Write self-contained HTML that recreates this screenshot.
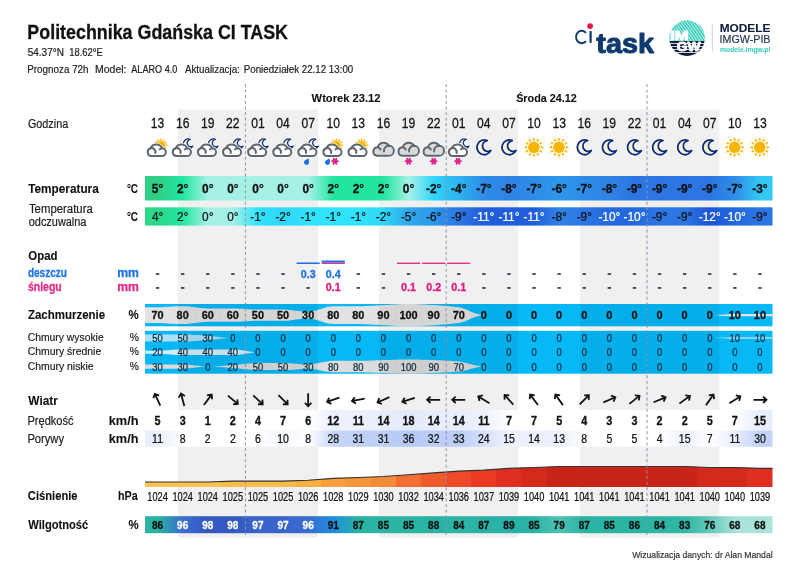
<!DOCTYPE html><html><head><meta charset="utf-8"><title>Meteogram</title><style>html,body{margin:0;padding:0;background:#fff;width:800px;height:566px;overflow:hidden}svg{display:block;will-change:transform}</style></head><body><svg width="800" height="566" viewBox="0 0 800 566" font-family='"Liberation Sans", sans-serif'><defs><linearGradient id="g1" x1="0" x2="1" y1="0" y2="0"><stop offset="0.0200" stop-color="#2fcf86"/><stop offset="0.0600" stop-color="#22e6a0"/><stop offset="0.1000" stop-color="#a6f1e6"/><stop offset="0.1400" stop-color="#a6f1e6"/><stop offset="0.1800" stop-color="#a6f1e6"/><stop offset="0.2200" stop-color="#a6f1e6"/><stop offset="0.2600" stop-color="#a6f1e6"/><stop offset="0.3000" stop-color="#22e6a0"/><stop offset="0.3400" stop-color="#22e6a0"/><stop offset="0.3800" stop-color="#22e6a0"/><stop offset="0.4200" stop-color="#a6f1e6"/><stop offset="0.4600" stop-color="#30d6f8"/><stop offset="0.5000" stop-color="#2eb3f0"/><stop offset="0.5400" stop-color="#2e8ce8"/><stop offset="0.5800" stop-color="#2f82e6"/><stop offset="0.6200" stop-color="#2e8ce8"/><stop offset="0.6600" stop-color="#2c98ea"/><stop offset="0.7000" stop-color="#2e8ce8"/><stop offset="0.7400" stop-color="#2f82e6"/><stop offset="0.7800" stop-color="#2b76e2"/><stop offset="0.8200" stop-color="#2b76e2"/><stop offset="0.8600" stop-color="#2b76e2"/><stop offset="0.9000" stop-color="#2b76e2"/><stop offset="0.9400" stop-color="#2e8ce8"/><stop offset="0.9800" stop-color="#33c9f4"/></linearGradient><linearGradient id="g2" x1="0" x2="1" y1="0" y2="0"><stop offset="0.0200" stop-color="#2cd98c"/><stop offset="0.0600" stop-color="#22e6a0"/><stop offset="0.1000" stop-color="#a6f1e6"/><stop offset="0.1400" stop-color="#a6f1e6"/><stop offset="0.1800" stop-color="#30e2fa"/><stop offset="0.2200" stop-color="#30d6f8"/><stop offset="0.2600" stop-color="#30e2fa"/><stop offset="0.3000" stop-color="#30e2fa"/><stop offset="0.3400" stop-color="#30e2fa"/><stop offset="0.3800" stop-color="#30d6f8"/><stop offset="0.4200" stop-color="#2fa8ee"/><stop offset="0.4600" stop-color="#2c98ea"/><stop offset="0.5000" stop-color="#2b76e2"/><stop offset="0.5400" stop-color="#1f5ddb"/><stop offset="0.5800" stop-color="#1f5ddb"/><stop offset="0.6200" stop-color="#1f5ddb"/><stop offset="0.6600" stop-color="#2f82e6"/><stop offset="0.7000" stop-color="#2b76e2"/><stop offset="0.7400" stop-color="#2468de"/><stop offset="0.7800" stop-color="#2468de"/><stop offset="0.8200" stop-color="#2b76e2"/><stop offset="0.8600" stop-color="#2b76e2"/><stop offset="0.9000" stop-color="#1c55d6"/><stop offset="0.9400" stop-color="#2468de"/><stop offset="0.9800" stop-color="#2b76e2"/></linearGradient><linearGradient id="g3" x1="0" x2="1" y1="0" y2="0"><stop offset="0.0200" stop-color="#ffffff"/><stop offset="0.0600" stop-color="#ffffff"/><stop offset="0.1000" stop-color="#ffffff"/><stop offset="0.1400" stop-color="#ffffff"/><stop offset="0.1800" stop-color="#ffffff"/><stop offset="0.2200" stop-color="#ffffff"/><stop offset="0.2600" stop-color="#ffffff"/><stop offset="0.3000" stop-color="#ebf0fd"/><stop offset="0.3400" stop-color="#edf1fd"/><stop offset="0.3800" stop-color="#e8eefd"/><stop offset="0.4200" stop-color="#e2e9fc"/><stop offset="0.4600" stop-color="#e8eefd"/><stop offset="0.5000" stop-color="#e8eefd"/><stop offset="0.5400" stop-color="#edf1fd"/><stop offset="0.5800" stop-color="#ffffff"/><stop offset="0.6200" stop-color="#ffffff"/><stop offset="0.6600" stop-color="#ffffff"/><stop offset="0.7000" stop-color="#ffffff"/><stop offset="0.7400" stop-color="#ffffff"/><stop offset="0.7800" stop-color="#ffffff"/><stop offset="0.8200" stop-color="#ffffff"/><stop offset="0.8600" stop-color="#ffffff"/><stop offset="0.9000" stop-color="#ffffff"/><stop offset="0.9400" stop-color="#ffffff"/><stop offset="0.9800" stop-color="#e6edfd"/></linearGradient><linearGradient id="g4" x1="0" x2="1" y1="0" y2="0"><stop offset="0.0200" stop-color="#e8eefc"/><stop offset="0.0600" stop-color="#ffffff"/><stop offset="0.1000" stop-color="#ffffff"/><stop offset="0.1400" stop-color="#ffffff"/><stop offset="0.1800" stop-color="#ffffff"/><stop offset="0.2200" stop-color="#f4f6fe"/><stop offset="0.2600" stop-color="#ffffff"/><stop offset="0.3000" stop-color="#c8d6f8"/><stop offset="0.3400" stop-color="#bfd0f7"/><stop offset="0.3800" stop-color="#bfd0f7"/><stop offset="0.4200" stop-color="#b4c8f6"/><stop offset="0.4600" stop-color="#bdcef7"/><stop offset="0.5000" stop-color="#bbcdf7"/><stop offset="0.5400" stop-color="#d6e0fa"/><stop offset="0.5800" stop-color="#eef2fd"/><stop offset="0.6200" stop-color="#ecf1fd"/><stop offset="0.6600" stop-color="#ebf0fc"/><stop offset="0.7000" stop-color="#ffffff"/><stop offset="0.7400" stop-color="#ffffff"/><stop offset="0.7800" stop-color="#ffffff"/><stop offset="0.8200" stop-color="#ffffff"/><stop offset="0.8600" stop-color="#eef2fd"/><stop offset="0.9000" stop-color="#ffffff"/><stop offset="0.9400" stop-color="#e8eefc"/><stop offset="0.9800" stop-color="#c2d2f7"/></linearGradient><linearGradient id="g5" gradientUnits="userSpaceOnUse" x1="145.0" x2="772.5" y1="0" y2="0"><stop offset="0.00000" stop-color="#fdc454"/><stop offset="0.04000" stop-color="#fdc454"/><stop offset="0.04000" stop-color="#fdc454"/><stop offset="0.08000" stop-color="#fdc454"/><stop offset="0.08000" stop-color="#fdc454"/><stop offset="0.12000" stop-color="#fdc454"/><stop offset="0.12000" stop-color="#fcbc4c"/><stop offset="0.16000" stop-color="#fcbc4c"/><stop offset="0.16000" stop-color="#fcbc4c"/><stop offset="0.20000" stop-color="#fcbc4c"/><stop offset="0.20000" stop-color="#fcbc4c"/><stop offset="0.24000" stop-color="#fcbc4c"/><stop offset="0.24000" stop-color="#fbb040"/><stop offset="0.28000" stop-color="#fbb040"/><stop offset="0.28000" stop-color="#f9a03c"/><stop offset="0.32000" stop-color="#f9a03c"/><stop offset="0.32000" stop-color="#f8943a"/><stop offset="0.36000" stop-color="#f8943a"/><stop offset="0.36000" stop-color="#f58a38"/><stop offset="0.40000" stop-color="#f58a38"/><stop offset="0.40000" stop-color="#f26e32"/><stop offset="0.44000" stop-color="#f26e32"/><stop offset="0.44000" stop-color="#ee5a2c"/><stop offset="0.48000" stop-color="#ee5a2c"/><stop offset="0.48000" stop-color="#ee4a28"/><stop offset="0.52000" stop-color="#ee4a28"/><stop offset="0.52000" stop-color="#ec3a22"/><stop offset="0.56000" stop-color="#ec3a22"/><stop offset="0.56000" stop-color="#e02e20"/><stop offset="0.60000" stop-color="#e02e20"/><stop offset="0.60000" stop-color="#d42a1e"/><stop offset="0.64000" stop-color="#d42a1e"/><stop offset="0.64000" stop-color="#c82418"/><stop offset="0.68000" stop-color="#c82418"/><stop offset="0.68000" stop-color="#c82418"/><stop offset="0.72000" stop-color="#c82418"/><stop offset="0.72000" stop-color="#c82418"/><stop offset="0.76000" stop-color="#c82418"/><stop offset="0.76000" stop-color="#c82418"/><stop offset="0.80000" stop-color="#c82418"/><stop offset="0.80000" stop-color="#c82418"/><stop offset="0.84000" stop-color="#c82418"/><stop offset="0.84000" stop-color="#c82418"/><stop offset="0.88000" stop-color="#c82418"/><stop offset="0.88000" stop-color="#d42a1e"/><stop offset="0.92000" stop-color="#d42a1e"/><stop offset="0.92000" stop-color="#d42a1e"/><stop offset="0.96000" stop-color="#d42a1e"/><stop offset="0.96000" stop-color="#e02e20"/><stop offset="1.00000" stop-color="#e02e20"/></linearGradient><linearGradient id="g6" x1="0" x2="1" y1="0" y2="0"><stop offset="0.0200" stop-color="#29b4a3"/><stop offset="0.0600" stop-color="#3a6ccf"/><stop offset="0.1000" stop-color="#3458c0"/><stop offset="0.1400" stop-color="#3458c0"/><stop offset="0.1800" stop-color="#3964c9"/><stop offset="0.2200" stop-color="#3964c9"/><stop offset="0.2600" stop-color="#3a6ccf"/><stop offset="0.3000" stop-color="#1f8fe0"/><stop offset="0.3400" stop-color="#29b3a4"/><stop offset="0.3800" stop-color="#2ab5a3"/><stop offset="0.4200" stop-color="#2ab5a3"/><stop offset="0.4600" stop-color="#28b2a4"/><stop offset="0.5000" stop-color="#2db6a4"/><stop offset="0.5400" stop-color="#29b3a4"/><stop offset="0.5800" stop-color="#2ab0a8"/><stop offset="0.6200" stop-color="#2ab5a3"/><stop offset="0.6600" stop-color="#4fc2b2"/><stop offset="0.7000" stop-color="#29b3a4"/><stop offset="0.7400" stop-color="#2ab5a3"/><stop offset="0.7800" stop-color="#29b4a3"/><stop offset="0.8200" stop-color="#2db6a4"/><stop offset="0.8600" stop-color="#30b8a6"/><stop offset="0.9000" stop-color="#62c9b9"/><stop offset="0.9400" stop-color="#a9e3da"/><stop offset="0.9800" stop-color="#a9e3da"/></linearGradient></defs><rect x="0" y="0" width="800" height="566" fill="#fff"/>
<rect x="178" y="109.5" width="140" height="428" fill="#f0f0f0"/>
<rect x="379" y="109.5" width="139" height="428" fill="#f0f0f0"/>
<rect x="580" y="109.5" width="139.29999999999995" height="428" fill="#f0f0f0"/>
<text transform="translate(27.37,38.60) scale(0.8802,1)" font-size="20.3" font-weight="bold" text-anchor="start" fill="#111111" xml:space="preserve" stroke="#111111" stroke-width="0.3" stroke-linejoin="round">Politechnika Gdańska CI TASK</text>
<text transform="translate(27.72,55.75) scale(0.9615,1)" font-size="10.4" font-weight="normal" text-anchor="start" fill="#222" xml:space="preserve" stroke="#222" stroke-width="0.2" stroke-linejoin="round">54.37°N</text>
<text transform="translate(69.28,55.75) scale(0.9053,1)" font-size="10.4" font-weight="normal" text-anchor="start" fill="#222" xml:space="preserve" stroke="#222" stroke-width="0.2" stroke-linejoin="round">18.62°E</text>
<text transform="translate(27.26,72.60) scale(0.9389,1)" font-size="10.5" font-weight="normal" text-anchor="start" fill="#222" xml:space="preserve" stroke="#222" stroke-width="0.2" stroke-linejoin="round">Prognoza 72h</text>
<text transform="translate(95.10,72.60) scale(0.9966,1)" font-size="10.5" font-weight="normal" text-anchor="start" fill="#222" xml:space="preserve" stroke="#222" stroke-width="0.2" stroke-linejoin="round">Model:</text>
<text transform="translate(131.31,72.60) scale(0.8669,1)" font-size="10.5" font-weight="normal" text-anchor="start" fill="#222" xml:space="preserve" stroke="#222" stroke-width="0.2" stroke-linejoin="round">ALARO 4.0</text>
<text transform="translate(184.91,72.60) scale(0.9326,1)" font-size="10.5" font-weight="normal" text-anchor="start" fill="#222" xml:space="preserve" stroke="#222" stroke-width="0.2" stroke-linejoin="round">Aktualizacja:</text>
<text transform="translate(243.76,72.60) scale(0.9297,1)" font-size="10.5" font-weight="normal" text-anchor="start" fill="#222" xml:space="preserve" stroke="#222" stroke-width="0.2" stroke-linejoin="round">Poniedziałek 22.12 13:00</text>
<text transform="translate(311.60,101.60) scale(0.9620,1)" font-size="11.6" font-weight="bold" text-anchor="start" fill="#111" xml:space="preserve" stroke="#111" stroke-width="0.1" stroke-linejoin="round">Wtorek 23.12</text>
<text transform="translate(516.13,101.50) scale(0.9331,1)" font-size="11.6" font-weight="bold" text-anchor="start" fill="#111" xml:space="preserve" stroke="#111" stroke-width="0.1" stroke-linejoin="round">Środa 24.12</text>
<text transform="translate(27.97,128.40) scale(0.8842,1)" font-size="12.22" font-weight="normal" text-anchor="start" fill="#222" xml:space="preserve" stroke="#222" stroke-width="0.2" stroke-linejoin="round">Godzina</text>
<text transform="translate(28.20,192.75) scale(0.9515,1)" font-size="12.4" font-weight="bold" text-anchor="start" fill="#111" xml:space="preserve" stroke="#111" stroke-width="0.1" stroke-linejoin="round">Temperatura</text>
<text transform="translate(126.92,192.80) scale(0.7984,1)" font-size="12.4" font-weight="bold" text-anchor="start" fill="#111" xml:space="preserve" stroke="#111" stroke-width="0.1" stroke-linejoin="round">°C</text>
<text transform="translate(28.92,212.70) scale(0.9312,1)" font-size="12.22" font-weight="normal" text-anchor="start" fill="#222" xml:space="preserve" stroke="#222" stroke-width="0.2" stroke-linejoin="round">Temperatura</text>
<text transform="translate(28.75,225.70) scale(0.8953,1)" font-size="12.22" font-weight="normal" text-anchor="start" fill="#222" xml:space="preserve" stroke="#222" stroke-width="0.2" stroke-linejoin="round">odczuwalna</text>
<text transform="translate(126.92,221.20) scale(0.7984,1)" font-size="12.4" font-weight="bold" text-anchor="start" fill="#111" xml:space="preserve" stroke="#111" stroke-width="0.1" stroke-linejoin="round">°C</text>
<text transform="translate(28.29,259.70) scale(0.9227,1)" font-size="12.4" font-weight="bold" text-anchor="start" fill="#111" xml:space="preserve" stroke="#111" stroke-width="0.1" stroke-linejoin="round">Opad</text>
<text transform="translate(27.90,276.70) scale(0.8081,1)" font-size="12.4" font-weight="bold" text-anchor="start" fill="#1f74e6" xml:space="preserve" stroke="#1f74e6" stroke-width="0.3" stroke-linejoin="round">deszczu</text>
<text transform="translate(117.21,276.70) scale(0.9854,1)" font-size="12.4" font-weight="bold" text-anchor="start" fill="#1f74e6" xml:space="preserve" stroke="#1f74e6" stroke-width="0.3" stroke-linejoin="round">mm</text>
<text transform="translate(27.88,291.00) scale(0.8472,1)" font-size="12.4" font-weight="bold" text-anchor="start" fill="#e42c88" xml:space="preserve" stroke="#e42c88" stroke-width="0.3" stroke-linejoin="round">śniegu</text>
<text transform="translate(117.21,291.00) scale(0.9854,1)" font-size="12.4" font-weight="bold" text-anchor="start" fill="#e42c88" xml:space="preserve" stroke="#e42c88" stroke-width="0.3" stroke-linejoin="round">mm</text>
<text transform="translate(27.93,319.25) scale(0.9273,1)" font-size="12.4" font-weight="bold" text-anchor="start" fill="#111" xml:space="preserve" stroke="#111" stroke-width="0.1" stroke-linejoin="round">Zachmurzenie</text>
<text transform="translate(128.62,319.25) scale(0.9231,1)" font-size="12.4" font-weight="bold" text-anchor="start" fill="#111" xml:space="preserve" stroke="#111" stroke-width="0.1" stroke-linejoin="round">%</text>
<text transform="translate(27.77,341.00) scale(0.8792,1)" font-size="11.78" font-weight="normal" text-anchor="start" fill="#222" xml:space="preserve" stroke="#222" stroke-width="0.2" stroke-linejoin="round">Chmury wysokie</text>
<text transform="translate(129.65,341.00) scale(0.8763,1)" font-size="11.78" font-weight="normal" text-anchor="start" fill="#222" xml:space="preserve" stroke="#222" stroke-width="0.2" stroke-linejoin="round">%</text>
<text transform="translate(27.77,355.20) scale(0.8829,1)" font-size="11.78" font-weight="normal" text-anchor="start" fill="#222" xml:space="preserve" stroke="#222" stroke-width="0.2" stroke-linejoin="round">Chmury średnie</text>
<text transform="translate(129.65,355.20) scale(0.8763,1)" font-size="11.78" font-weight="normal" text-anchor="start" fill="#222" xml:space="preserve" stroke="#222" stroke-width="0.2" stroke-linejoin="round">%</text>
<text transform="translate(27.77,369.50) scale(0.8830,1)" font-size="11.78" font-weight="normal" text-anchor="start" fill="#222" xml:space="preserve" stroke="#222" stroke-width="0.2" stroke-linejoin="round">Chmury niskie</text>
<text transform="translate(129.65,369.50) scale(0.8763,1)" font-size="11.78" font-weight="normal" text-anchor="start" fill="#222" xml:space="preserve" stroke="#222" stroke-width="0.2" stroke-linejoin="round">%</text>
<text transform="translate(28.30,405.00) scale(0.9577,1)" font-size="12.4" font-weight="bold" text-anchor="start" fill="#111" xml:space="preserve" stroke="#111" stroke-width="0.1" stroke-linejoin="round">Wiatr</text>
<text transform="translate(27.42,424.50) scale(0.8772,1)" font-size="12.64" font-weight="normal" text-anchor="start" fill="#222" xml:space="preserve" stroke="#222" stroke-width="0.2" stroke-linejoin="round">Prędkość</text>
<text transform="translate(108.78,424.50) scale(1.0256,1)" font-size="12.4" font-weight="bold" text-anchor="start" fill="#111" xml:space="preserve" stroke="#111" stroke-width="0.1" stroke-linejoin="round">km/h</text>
<text transform="translate(27.42,443.20) scale(0.8837,1)" font-size="12.64" font-weight="normal" text-anchor="start" fill="#222" xml:space="preserve" stroke="#222" stroke-width="0.2" stroke-linejoin="round">Porywy</text>
<text transform="translate(108.78,443.20) scale(1.0256,1)" font-size="12.4" font-weight="bold" text-anchor="start" fill="#111" xml:space="preserve" stroke="#111" stroke-width="0.1" stroke-linejoin="round">km/h</text>
<text transform="translate(27.85,500.00) scale(0.9022,1)" font-size="12.4" font-weight="bold" text-anchor="start" fill="#111" xml:space="preserve" stroke="#111" stroke-width="0.1" stroke-linejoin="round">Ciśnienie</text>
<text transform="translate(117.92,500.00) scale(0.8676,1)" font-size="12.4" font-weight="bold" text-anchor="start" fill="#111" xml:space="preserve" stroke="#111" stroke-width="0.1" stroke-linejoin="round">hPa</text>
<text transform="translate(28.30,528.80) scale(0.9005,1)" font-size="12.4" font-weight="bold" text-anchor="start" fill="#111" xml:space="preserve" stroke="#111" stroke-width="0.1" stroke-linejoin="round">Wilgotność</text>
<text transform="translate(128.62,528.80) scale(0.9231,1)" font-size="12.4" font-weight="bold" text-anchor="start" fill="#111" xml:space="preserve" stroke="#111" stroke-width="0.1" stroke-linejoin="round">%</text>
<text transform="translate(632.21,558.10) scale(0.8922,1)" font-size="9.67" font-weight="normal" text-anchor="start" fill="#333" xml:space="preserve" stroke="#333" stroke-width="0.2" stroke-linejoin="round">Wizualizacja danych: dr Alan Mandal</text>
<text transform="translate(157.55,127.60) scale(0.8546,1)" font-size="14.2" font-weight="normal" text-anchor="middle" fill="#111" stroke="#111" stroke-width="0.25" stroke-linejoin="round">13</text>
<text transform="translate(182.65,127.60) scale(0.8546,1)" font-size="14.2" font-weight="normal" text-anchor="middle" fill="#111" stroke="#111" stroke-width="0.25" stroke-linejoin="round">16</text>
<text transform="translate(207.75,127.60) scale(0.8546,1)" font-size="14.2" font-weight="normal" text-anchor="middle" fill="#111" stroke="#111" stroke-width="0.25" stroke-linejoin="round">19</text>
<text transform="translate(232.85,127.60) scale(0.8546,1)" font-size="14.2" font-weight="normal" text-anchor="middle" fill="#111" stroke="#111" stroke-width="0.25" stroke-linejoin="round">22</text>
<text transform="translate(257.95,127.60) scale(0.8546,1)" font-size="14.2" font-weight="normal" text-anchor="middle" fill="#111" stroke="#111" stroke-width="0.25" stroke-linejoin="round">01</text>
<text transform="translate(283.05,127.60) scale(0.8546,1)" font-size="14.2" font-weight="normal" text-anchor="middle" fill="#111" stroke="#111" stroke-width="0.25" stroke-linejoin="round">04</text>
<text transform="translate(308.15,127.60) scale(0.8546,1)" font-size="14.2" font-weight="normal" text-anchor="middle" fill="#111" stroke="#111" stroke-width="0.25" stroke-linejoin="round">07</text>
<text transform="translate(333.25,127.60) scale(0.8546,1)" font-size="14.2" font-weight="normal" text-anchor="middle" fill="#111" stroke="#111" stroke-width="0.25" stroke-linejoin="round">10</text>
<text transform="translate(358.35,127.60) scale(0.8546,1)" font-size="14.2" font-weight="normal" text-anchor="middle" fill="#111" stroke="#111" stroke-width="0.25" stroke-linejoin="round">13</text>
<text transform="translate(383.45,127.60) scale(0.8546,1)" font-size="14.2" font-weight="normal" text-anchor="middle" fill="#111" stroke="#111" stroke-width="0.25" stroke-linejoin="round">16</text>
<text transform="translate(408.55,127.60) scale(0.8546,1)" font-size="14.2" font-weight="normal" text-anchor="middle" fill="#111" stroke="#111" stroke-width="0.25" stroke-linejoin="round">19</text>
<text transform="translate(433.65,127.60) scale(0.8546,1)" font-size="14.2" font-weight="normal" text-anchor="middle" fill="#111" stroke="#111" stroke-width="0.25" stroke-linejoin="round">22</text>
<text transform="translate(458.75,127.60) scale(0.8546,1)" font-size="14.2" font-weight="normal" text-anchor="middle" fill="#111" stroke="#111" stroke-width="0.25" stroke-linejoin="round">01</text>
<text transform="translate(483.85,127.60) scale(0.8546,1)" font-size="14.2" font-weight="normal" text-anchor="middle" fill="#111" stroke="#111" stroke-width="0.25" stroke-linejoin="round">04</text>
<text transform="translate(508.95,127.60) scale(0.8546,1)" font-size="14.2" font-weight="normal" text-anchor="middle" fill="#111" stroke="#111" stroke-width="0.25" stroke-linejoin="round">07</text>
<text transform="translate(534.05,127.60) scale(0.8546,1)" font-size="14.2" font-weight="normal" text-anchor="middle" fill="#111" stroke="#111" stroke-width="0.25" stroke-linejoin="round">10</text>
<text transform="translate(559.15,127.60) scale(0.8546,1)" font-size="14.2" font-weight="normal" text-anchor="middle" fill="#111" stroke="#111" stroke-width="0.25" stroke-linejoin="round">13</text>
<text transform="translate(584.25,127.60) scale(0.8546,1)" font-size="14.2" font-weight="normal" text-anchor="middle" fill="#111" stroke="#111" stroke-width="0.25" stroke-linejoin="round">16</text>
<text transform="translate(609.35,127.60) scale(0.8546,1)" font-size="14.2" font-weight="normal" text-anchor="middle" fill="#111" stroke="#111" stroke-width="0.25" stroke-linejoin="round">19</text>
<text transform="translate(634.45,127.60) scale(0.8546,1)" font-size="14.2" font-weight="normal" text-anchor="middle" fill="#111" stroke="#111" stroke-width="0.25" stroke-linejoin="round">22</text>
<text transform="translate(659.55,127.60) scale(0.8546,1)" font-size="14.2" font-weight="normal" text-anchor="middle" fill="#111" stroke="#111" stroke-width="0.25" stroke-linejoin="round">01</text>
<text transform="translate(684.65,127.60) scale(0.8546,1)" font-size="14.2" font-weight="normal" text-anchor="middle" fill="#111" stroke="#111" stroke-width="0.25" stroke-linejoin="round">04</text>
<text transform="translate(709.75,127.60) scale(0.8546,1)" font-size="14.2" font-weight="normal" text-anchor="middle" fill="#111" stroke="#111" stroke-width="0.25" stroke-linejoin="round">07</text>
<text transform="translate(734.85,127.60) scale(0.8546,1)" font-size="14.2" font-weight="normal" text-anchor="middle" fill="#111" stroke="#111" stroke-width="0.25" stroke-linejoin="round">10</text>
<text transform="translate(759.95,127.60) scale(0.8546,1)" font-size="14.2" font-weight="normal" text-anchor="middle" fill="#111" stroke="#111" stroke-width="0.25" stroke-linejoin="round">13</text>
<rect x="145.0" y="176" width="627.5" height="24.5" fill="url(#g1)"/>
<rect x="145.0" y="207.3" width="627.5" height="18.3" fill="url(#g2)"/>
<text transform="translate(157.55,192.80) scale(0.9931,1)" font-size="12" font-weight="bold" text-anchor="middle" fill="#111" stroke="#111" stroke-width="0.3" stroke-linejoin="round">5°</text>
<text transform="translate(182.65,192.80) scale(0.9931,1)" font-size="12" font-weight="bold" text-anchor="middle" fill="#111" stroke="#111" stroke-width="0.3" stroke-linejoin="round">2°</text>
<text transform="translate(207.75,192.80) scale(0.9931,1)" font-size="12" font-weight="bold" text-anchor="middle" fill="#111" stroke="#111" stroke-width="0.3" stroke-linejoin="round">0°</text>
<text transform="translate(232.85,192.80) scale(0.9931,1)" font-size="12" font-weight="bold" text-anchor="middle" fill="#111" stroke="#111" stroke-width="0.3" stroke-linejoin="round">0°</text>
<text transform="translate(257.95,192.80) scale(0.9931,1)" font-size="12" font-weight="bold" text-anchor="middle" fill="#111" stroke="#111" stroke-width="0.3" stroke-linejoin="round">0°</text>
<text transform="translate(283.05,192.80) scale(0.9931,1)" font-size="12" font-weight="bold" text-anchor="middle" fill="#111" stroke="#111" stroke-width="0.3" stroke-linejoin="round">0°</text>
<text transform="translate(308.15,192.80) scale(0.9931,1)" font-size="12" font-weight="bold" text-anchor="middle" fill="#111" stroke="#111" stroke-width="0.3" stroke-linejoin="round">0°</text>
<text transform="translate(333.25,192.80) scale(0.9931,1)" font-size="12" font-weight="bold" text-anchor="middle" fill="#111" stroke="#111" stroke-width="0.3" stroke-linejoin="round">2°</text>
<text transform="translate(358.35,192.80) scale(0.9931,1)" font-size="12" font-weight="bold" text-anchor="middle" fill="#111" stroke="#111" stroke-width="0.3" stroke-linejoin="round">2°</text>
<text transform="translate(383.45,192.80) scale(0.9931,1)" font-size="12" font-weight="bold" text-anchor="middle" fill="#111" stroke="#111" stroke-width="0.3" stroke-linejoin="round">2°</text>
<text transform="translate(408.55,192.80) scale(0.9931,1)" font-size="12" font-weight="bold" text-anchor="middle" fill="#111" stroke="#111" stroke-width="0.3" stroke-linejoin="round">0°</text>
<text transform="translate(433.65,192.80) scale(0.9931,1)" font-size="12" font-weight="bold" text-anchor="middle" fill="#111" stroke="#111" stroke-width="0.3" stroke-linejoin="round">-2°</text>
<text transform="translate(458.75,192.80) scale(0.9931,1)" font-size="12" font-weight="bold" text-anchor="middle" fill="#111" stroke="#111" stroke-width="0.3" stroke-linejoin="round">-4°</text>
<text transform="translate(483.85,192.80) scale(0.9931,1)" font-size="12" font-weight="bold" text-anchor="middle" fill="#111" stroke="#111" stroke-width="0.3" stroke-linejoin="round">-7°</text>
<text transform="translate(508.95,192.80) scale(0.9931,1)" font-size="12" font-weight="bold" text-anchor="middle" fill="#111" stroke="#111" stroke-width="0.3" stroke-linejoin="round">-8°</text>
<text transform="translate(534.05,192.80) scale(0.9931,1)" font-size="12" font-weight="bold" text-anchor="middle" fill="#111" stroke="#111" stroke-width="0.3" stroke-linejoin="round">-7°</text>
<text transform="translate(559.15,192.80) scale(0.9931,1)" font-size="12" font-weight="bold" text-anchor="middle" fill="#111" stroke="#111" stroke-width="0.3" stroke-linejoin="round">-6°</text>
<text transform="translate(584.25,192.80) scale(0.9931,1)" font-size="12" font-weight="bold" text-anchor="middle" fill="#111" stroke="#111" stroke-width="0.3" stroke-linejoin="round">-7°</text>
<text transform="translate(609.35,192.80) scale(0.9931,1)" font-size="12" font-weight="bold" text-anchor="middle" fill="#111" stroke="#111" stroke-width="0.3" stroke-linejoin="round">-8°</text>
<text transform="translate(634.45,192.80) scale(0.9931,1)" font-size="12" font-weight="bold" text-anchor="middle" fill="#111" stroke="#111" stroke-width="0.3" stroke-linejoin="round">-9°</text>
<text transform="translate(659.55,192.80) scale(0.9931,1)" font-size="12" font-weight="bold" text-anchor="middle" fill="#111" stroke="#111" stroke-width="0.3" stroke-linejoin="round">-9°</text>
<text transform="translate(684.65,192.80) scale(0.9931,1)" font-size="12" font-weight="bold" text-anchor="middle" fill="#111" stroke="#111" stroke-width="0.3" stroke-linejoin="round">-9°</text>
<text transform="translate(709.75,192.80) scale(0.9931,1)" font-size="12" font-weight="bold" text-anchor="middle" fill="#111" stroke="#111" stroke-width="0.3" stroke-linejoin="round">-9°</text>
<text transform="translate(734.85,192.80) scale(0.9931,1)" font-size="12" font-weight="bold" text-anchor="middle" fill="#111" stroke="#111" stroke-width="0.3" stroke-linejoin="round">-7°</text>
<text transform="translate(759.95,192.80) scale(0.9931,1)" font-size="12" font-weight="bold" text-anchor="middle" fill="#111" stroke="#111" stroke-width="0.3" stroke-linejoin="round">-3°</text>
<text transform="translate(157.55,220.60) scale(0.9875,1)" font-size="12.0" font-weight="normal" text-anchor="middle" fill="#111" stroke="#111" stroke-width="0.25" stroke-linejoin="round">4°</text>
<text transform="translate(182.65,220.60) scale(0.9875,1)" font-size="12.0" font-weight="normal" text-anchor="middle" fill="#111" stroke="#111" stroke-width="0.25" stroke-linejoin="round">2°</text>
<text transform="translate(207.75,220.60) scale(0.9875,1)" font-size="12.0" font-weight="normal" text-anchor="middle" fill="#111" stroke="#111" stroke-width="0.25" stroke-linejoin="round">0°</text>
<text transform="translate(232.85,220.60) scale(0.9875,1)" font-size="12.0" font-weight="normal" text-anchor="middle" fill="#111" stroke="#111" stroke-width="0.25" stroke-linejoin="round">0°</text>
<text transform="translate(257.95,220.60) scale(0.9875,1)" font-size="12.0" font-weight="normal" text-anchor="middle" fill="#111" stroke="#111" stroke-width="0.25" stroke-linejoin="round">-1°</text>
<text transform="translate(283.05,220.60) scale(0.9875,1)" font-size="12.0" font-weight="normal" text-anchor="middle" fill="#111" stroke="#111" stroke-width="0.25" stroke-linejoin="round">-2°</text>
<text transform="translate(308.15,220.60) scale(0.9875,1)" font-size="12.0" font-weight="normal" text-anchor="middle" fill="#111" stroke="#111" stroke-width="0.25" stroke-linejoin="round">-1°</text>
<text transform="translate(333.25,220.60) scale(0.9875,1)" font-size="12.0" font-weight="normal" text-anchor="middle" fill="#111" stroke="#111" stroke-width="0.25" stroke-linejoin="round">-1°</text>
<text transform="translate(358.35,220.60) scale(0.9875,1)" font-size="12.0" font-weight="normal" text-anchor="middle" fill="#111" stroke="#111" stroke-width="0.25" stroke-linejoin="round">-1°</text>
<text transform="translate(383.45,220.60) scale(0.9875,1)" font-size="12.0" font-weight="normal" text-anchor="middle" fill="#111" stroke="#111" stroke-width="0.25" stroke-linejoin="round">-2°</text>
<text transform="translate(408.55,220.60) scale(0.9875,1)" font-size="12.0" font-weight="normal" text-anchor="middle" fill="#111" stroke="#111" stroke-width="0.25" stroke-linejoin="round">-5°</text>
<text transform="translate(433.65,220.60) scale(0.9875,1)" font-size="12.0" font-weight="normal" text-anchor="middle" fill="#111" stroke="#111" stroke-width="0.25" stroke-linejoin="round">-6°</text>
<text transform="translate(458.75,220.60) scale(0.9875,1)" font-size="12.0" font-weight="normal" text-anchor="middle" fill="#111" stroke="#111" stroke-width="0.25" stroke-linejoin="round">-9°</text>
<text transform="translate(483.85,220.60) scale(0.9875,1)" font-size="12.0" font-weight="normal" text-anchor="middle" fill="#fff" stroke="#fff" stroke-width="0.25" stroke-linejoin="round">-11°</text>
<text transform="translate(508.95,220.60) scale(0.9875,1)" font-size="12.0" font-weight="normal" text-anchor="middle" fill="#fff" stroke="#fff" stroke-width="0.25" stroke-linejoin="round">-11°</text>
<text transform="translate(534.05,220.60) scale(0.9875,1)" font-size="12.0" font-weight="normal" text-anchor="middle" fill="#fff" stroke="#fff" stroke-width="0.25" stroke-linejoin="round">-11°</text>
<text transform="translate(559.15,220.60) scale(0.9875,1)" font-size="12.0" font-weight="normal" text-anchor="middle" fill="#111" stroke="#111" stroke-width="0.25" stroke-linejoin="round">-8°</text>
<text transform="translate(584.25,220.60) scale(0.9875,1)" font-size="12.0" font-weight="normal" text-anchor="middle" fill="#111" stroke="#111" stroke-width="0.25" stroke-linejoin="round">-9°</text>
<text transform="translate(609.35,220.60) scale(0.9875,1)" font-size="12.0" font-weight="normal" text-anchor="middle" fill="#fff" stroke="#fff" stroke-width="0.25" stroke-linejoin="round">-10°</text>
<text transform="translate(634.45,220.60) scale(0.9875,1)" font-size="12.0" font-weight="normal" text-anchor="middle" fill="#fff" stroke="#fff" stroke-width="0.25" stroke-linejoin="round">-10°</text>
<text transform="translate(659.55,220.60) scale(0.9875,1)" font-size="12.0" font-weight="normal" text-anchor="middle" fill="#111" stroke="#111" stroke-width="0.25" stroke-linejoin="round">-9°</text>
<text transform="translate(684.65,220.60) scale(0.9875,1)" font-size="12.0" font-weight="normal" text-anchor="middle" fill="#111" stroke="#111" stroke-width="0.25" stroke-linejoin="round">-9°</text>
<text transform="translate(709.75,220.60) scale(0.9875,1)" font-size="12.0" font-weight="normal" text-anchor="middle" fill="#fff" stroke="#fff" stroke-width="0.25" stroke-linejoin="round">-12°</text>
<text transform="translate(734.85,220.60) scale(0.9875,1)" font-size="12.0" font-weight="normal" text-anchor="middle" fill="#fff" stroke="#fff" stroke-width="0.25" stroke-linejoin="round">-10°</text>
<text transform="translate(759.95,220.60) scale(0.9875,1)" font-size="12.0" font-weight="normal" text-anchor="middle" fill="#111" stroke="#111" stroke-width="0.25" stroke-linejoin="round">-9°</text>
<rect x="296.60" y="262.44" width="23.10" height="1.56" fill="#2a6fe0"/>
<rect x="321.70" y="262.60" width="23.10" height="1.40" fill="#e0358a"/>
<rect x="321.70" y="260.52" width="23.10" height="2.08" fill="#2a6fe0"/>
<rect x="397.00" y="262.60" width="23.10" height="1.40" fill="#e0358a"/>
<rect x="422.10" y="262.60" width="23.10" height="1.40" fill="#e0358a"/>
<rect x="447.20" y="262.60" width="23.10" height="1.40" fill="#e0358a"/>
<rect x="155.85" y="273.3" width="3.4" height="1.5" fill="#1a1f3a"/>
<rect x="155.85" y="287.2" width="3.4" height="1.5" fill="#1a1f3a"/>
<rect x="180.95" y="273.3" width="3.4" height="1.5" fill="#1a1f3a"/>
<rect x="180.95" y="287.2" width="3.4" height="1.5" fill="#1a1f3a"/>
<rect x="206.05" y="273.3" width="3.4" height="1.5" fill="#1a1f3a"/>
<rect x="206.05" y="287.2" width="3.4" height="1.5" fill="#1a1f3a"/>
<rect x="231.15" y="273.3" width="3.4" height="1.5" fill="#1a1f3a"/>
<rect x="231.15" y="287.2" width="3.4" height="1.5" fill="#1a1f3a"/>
<rect x="256.25" y="273.3" width="3.4" height="1.5" fill="#1a1f3a"/>
<rect x="256.25" y="287.2" width="3.4" height="1.5" fill="#1a1f3a"/>
<rect x="281.35" y="273.3" width="3.4" height="1.5" fill="#1a1f3a"/>
<rect x="281.35" y="287.2" width="3.4" height="1.5" fill="#1a1f3a"/>
<text transform="translate(308.15,277.50) scale(0.9097,1)" font-size="11.8" font-weight="bold" text-anchor="middle" fill="#1a70e6" stroke="#1a70e6" stroke-width="0.3" stroke-linejoin="round">0.3</text>
<rect x="306.45" y="287.2" width="3.4" height="1.5" fill="#1a1f3a"/>
<text transform="translate(333.25,277.50) scale(0.9097,1)" font-size="11.8" font-weight="bold" text-anchor="middle" fill="#1a70e6" stroke="#1a70e6" stroke-width="0.3" stroke-linejoin="round">0.4</text>
<text transform="translate(333.25,290.90) scale(0.9097,1)" font-size="11.8" font-weight="bold" text-anchor="middle" fill="#e01a80" stroke="#e01a80" stroke-width="0.3" stroke-linejoin="round">0.1</text>
<rect x="356.65" y="273.3" width="3.4" height="1.5" fill="#1a1f3a"/>
<rect x="356.65" y="287.2" width="3.4" height="1.5" fill="#1a1f3a"/>
<rect x="381.75" y="273.3" width="3.4" height="1.5" fill="#1a1f3a"/>
<rect x="381.75" y="287.2" width="3.4" height="1.5" fill="#1a1f3a"/>
<rect x="406.85" y="273.3" width="3.4" height="1.5" fill="#1a1f3a"/>
<text transform="translate(408.55,290.90) scale(0.9097,1)" font-size="11.8" font-weight="bold" text-anchor="middle" fill="#e01a80" stroke="#e01a80" stroke-width="0.3" stroke-linejoin="round">0.1</text>
<rect x="431.95" y="273.3" width="3.4" height="1.5" fill="#1a1f3a"/>
<text transform="translate(433.65,290.90) scale(0.9097,1)" font-size="11.8" font-weight="bold" text-anchor="middle" fill="#e01a80" stroke="#e01a80" stroke-width="0.3" stroke-linejoin="round">0.2</text>
<rect x="457.05" y="273.3" width="3.4" height="1.5" fill="#1a1f3a"/>
<text transform="translate(458.75,290.90) scale(0.9097,1)" font-size="11.8" font-weight="bold" text-anchor="middle" fill="#e01a80" stroke="#e01a80" stroke-width="0.3" stroke-linejoin="round">0.1</text>
<rect x="482.15" y="273.3" width="3.4" height="1.5" fill="#1a1f3a"/>
<rect x="482.15" y="287.2" width="3.4" height="1.5" fill="#1a1f3a"/>
<rect x="507.25" y="273.3" width="3.4" height="1.5" fill="#1a1f3a"/>
<rect x="507.25" y="287.2" width="3.4" height="1.5" fill="#1a1f3a"/>
<rect x="532.35" y="273.3" width="3.4" height="1.5" fill="#1a1f3a"/>
<rect x="532.35" y="287.2" width="3.4" height="1.5" fill="#1a1f3a"/>
<rect x="557.45" y="273.3" width="3.4" height="1.5" fill="#1a1f3a"/>
<rect x="557.45" y="287.2" width="3.4" height="1.5" fill="#1a1f3a"/>
<rect x="582.55" y="273.3" width="3.4" height="1.5" fill="#1a1f3a"/>
<rect x="582.55" y="287.2" width="3.4" height="1.5" fill="#1a1f3a"/>
<rect x="607.65" y="273.3" width="3.4" height="1.5" fill="#1a1f3a"/>
<rect x="607.65" y="287.2" width="3.4" height="1.5" fill="#1a1f3a"/>
<rect x="632.75" y="273.3" width="3.4" height="1.5" fill="#1a1f3a"/>
<rect x="632.75" y="287.2" width="3.4" height="1.5" fill="#1a1f3a"/>
<rect x="657.85" y="273.3" width="3.4" height="1.5" fill="#1a1f3a"/>
<rect x="657.85" y="287.2" width="3.4" height="1.5" fill="#1a1f3a"/>
<rect x="682.95" y="273.3" width="3.4" height="1.5" fill="#1a1f3a"/>
<rect x="682.95" y="287.2" width="3.4" height="1.5" fill="#1a1f3a"/>
<rect x="708.05" y="273.3" width="3.4" height="1.5" fill="#1a1f3a"/>
<rect x="708.05" y="287.2" width="3.4" height="1.5" fill="#1a1f3a"/>
<rect x="733.15" y="273.3" width="3.4" height="1.5" fill="#1a1f3a"/>
<rect x="733.15" y="287.2" width="3.4" height="1.5" fill="#1a1f3a"/>
<rect x="758.25" y="273.3" width="3.4" height="1.5" fill="#1a1f3a"/>
<rect x="758.25" y="287.2" width="3.4" height="1.5" fill="#1a1f3a"/>
<rect x="145.0" y="304" width="627.5" height="22.3" fill="#06b9f6"/>
<path d="M145.00,307.34 L157.55,307.34 L160.69,307.19 L163.83,307.01 L166.96,306.83 L170.10,306.65 L173.24,306.48 L176.38,306.35 L179.51,306.26 L182.65,306.23 L185.79,306.33 L188.93,306.58 L192.06,306.94 L195.20,307.34 L198.34,307.75 L201.47,308.11 L204.61,308.36 L207.75,308.46 L210.89,308.46 L214.03,308.46 L217.16,308.46 L220.30,308.46 L223.44,308.46 L226.58,308.46 L229.71,308.46 L232.85,308.46 L235.99,308.51 L239.12,308.63 L242.26,308.81 L245.40,309.02 L248.54,309.22 L251.68,309.40 L254.81,309.53 L257.95,309.57 L261.09,309.57 L264.23,309.57 L267.36,309.57 L270.50,309.57 L273.64,309.57 L276.77,309.57 L279.91,309.57 L283.05,309.57 L286.19,309.67 L289.32,309.92 L292.46,310.28 L295.60,310.69 L298.74,311.10 L301.88,311.46 L305.01,311.71 L308.15,311.80 L311.29,311.57 L314.42,310.93 L317.56,310.04 L320.70,309.02 L323.84,307.99 L326.98,307.10 L330.11,306.47 L333.25,306.23 L336.39,306.23 L339.52,306.23 L342.66,306.23 L345.80,306.23 L348.94,306.23 L352.08,306.23 L355.21,306.23 L358.35,306.23 L361.49,306.20 L364.62,306.11 L367.76,305.98 L370.90,305.81 L374.04,305.63 L377.18,305.45 L380.31,305.27 L383.45,305.11 L386.59,304.96 L389.73,304.78 L392.86,304.60 L396.00,304.42 L399.14,304.25 L402.28,304.12 L405.41,304.03 L408.55,304.00 L411.69,304.03 L414.83,304.10 L417.96,304.22 L421.10,304.37 L424.24,304.54 L427.38,304.73 L430.51,304.92 L433.65,305.11 L436.79,305.31 L439.93,305.51 L443.06,305.73 L446.20,305.98 L449.34,306.26 L452.48,306.58 L455.61,306.94 L458.75,307.34 L461.89,308.01 L465.02,309.05 L468.16,310.32 L471.30,311.68 L474.44,312.99 L477.58,314.09 L480.71,314.86 L483.85,315.15 L486.99,315.15 L490.12,315.15 L493.26,315.15 L496.40,315.15 L499.54,315.15 L502.68,315.15 L505.81,315.15 L508.95,315.15 L512.09,315.15 L515.23,315.15 L518.36,315.15 L521.50,315.15 L524.64,315.15 L527.77,315.15 L530.91,315.15 L534.05,315.15 L537.19,315.15 L540.33,315.15 L543.46,315.15 L546.60,315.15 L549.74,315.15 L552.88,315.15 L556.01,315.15 L559.15,315.15 L562.29,315.15 L565.43,315.15 L568.56,315.15 L571.70,315.15 L574.84,315.15 L577.98,315.15 L581.11,315.15 L584.25,315.15 L587.39,315.15 L590.52,315.15 L593.66,315.15 L596.80,315.15 L599.94,315.15 L603.08,315.15 L606.21,315.15 L609.35,315.15 L612.49,315.15 L615.62,315.15 L618.76,315.15 L621.90,315.15 L625.04,315.15 L628.18,315.15 L631.31,315.15 L634.45,315.15 L637.59,315.15 L640.73,315.15 L643.86,315.15 L647.00,315.15 L650.14,315.15 L653.28,315.15 L656.41,315.15 L659.55,315.15 L662.69,315.15 L665.83,315.15 L668.96,315.15 L672.10,315.15 L675.24,315.15 L678.38,315.15 L681.51,315.15 L684.65,315.15 L687.79,315.15 L690.92,315.15 L694.06,315.15 L697.20,315.15 L700.34,315.15 L703.48,315.15 L706.61,315.15 L709.75,315.15 L712.89,315.10 L716.02,314.98 L719.16,314.80 L722.30,314.59 L725.44,314.39 L728.58,314.21 L731.71,314.08 L734.85,314.03 L737.99,314.03 L741.12,314.03 L744.26,314.03 L747.40,314.03 L750.54,314.03 L753.68,314.03 L756.81,314.03 L759.95,314.03 L772.50,314.03 L772.50,316.26 L759.95,316.26 L756.81,316.26 L753.68,316.26 L750.54,316.26 L747.40,316.26 L744.26,316.26 L741.12,316.26 L737.99,316.26 L734.85,316.26 L731.71,316.22 L728.58,316.09 L725.44,315.91 L722.30,315.71 L719.16,315.50 L716.02,315.32 L712.89,315.20 L709.75,315.15 L706.61,315.15 L703.48,315.15 L700.34,315.15 L697.20,315.15 L694.06,315.15 L690.92,315.15 L687.79,315.15 L684.65,315.15 L681.51,315.15 L678.38,315.15 L675.24,315.15 L672.10,315.15 L668.96,315.15 L665.83,315.15 L662.69,315.15 L659.55,315.15 L656.41,315.15 L653.28,315.15 L650.14,315.15 L647.00,315.15 L643.86,315.15 L640.73,315.15 L637.59,315.15 L634.45,315.15 L631.31,315.15 L628.18,315.15 L625.04,315.15 L621.90,315.15 L618.76,315.15 L615.62,315.15 L612.49,315.15 L609.35,315.15 L606.21,315.15 L603.08,315.15 L599.94,315.15 L596.80,315.15 L593.66,315.15 L590.52,315.15 L587.39,315.15 L584.25,315.15 L581.11,315.15 L577.98,315.15 L574.84,315.15 L571.70,315.15 L568.56,315.15 L565.43,315.15 L562.29,315.15 L559.15,315.15 L556.01,315.15 L552.88,315.15 L549.74,315.15 L546.60,315.15 L543.46,315.15 L540.33,315.15 L537.19,315.15 L534.05,315.15 L530.91,315.15 L527.77,315.15 L524.64,315.15 L521.50,315.15 L518.36,315.15 L515.23,315.15 L512.09,315.15 L508.95,315.15 L505.81,315.15 L502.68,315.15 L499.54,315.15 L496.40,315.15 L493.26,315.15 L490.12,315.15 L486.99,315.15 L483.85,315.15 L480.71,315.44 L477.58,316.21 L474.44,317.31 L471.30,318.62 L468.16,319.98 L465.02,321.25 L461.89,322.29 L458.75,322.95 L455.61,323.36 L452.48,323.72 L449.34,324.04 L446.20,324.32 L443.06,324.57 L439.93,324.79 L436.79,324.99 L433.65,325.19 L430.51,325.38 L427.38,325.57 L424.24,325.76 L421.10,325.93 L417.96,326.08 L414.83,326.20 L411.69,326.27 L408.55,326.30 L405.41,326.27 L402.28,326.18 L399.14,326.05 L396.00,325.88 L392.86,325.70 L389.73,325.52 L386.59,325.34 L383.45,325.19 L380.31,325.03 L377.18,324.85 L374.04,324.67 L370.90,324.49 L367.76,324.32 L364.62,324.19 L361.49,324.10 L358.35,324.07 L355.21,324.07 L352.08,324.07 L348.94,324.07 L345.80,324.07 L342.66,324.07 L339.52,324.07 L336.39,324.07 L333.25,324.07 L330.11,323.83 L326.98,323.20 L323.84,322.31 L320.70,321.28 L317.56,320.26 L314.42,319.37 L311.29,318.73 L308.15,318.50 L305.01,318.59 L301.88,318.84 L298.74,319.20 L295.60,319.61 L292.46,320.02 L289.32,320.38 L286.19,320.63 L283.05,320.72 L279.91,320.72 L276.77,320.72 L273.64,320.72 L270.50,320.72 L267.36,320.72 L264.23,320.72 L261.09,320.72 L257.95,320.72 L254.81,320.77 L251.68,320.90 L248.54,321.08 L245.40,321.28 L242.26,321.49 L239.12,321.67 L235.99,321.79 L232.85,321.84 L229.71,321.84 L226.58,321.84 L223.44,321.84 L220.30,321.84 L217.16,321.84 L214.03,321.84 L210.89,321.84 L207.75,321.84 L204.61,321.94 L201.47,322.19 L198.34,322.55 L195.20,322.95 L192.06,323.36 L188.93,323.72 L185.79,323.97 L182.65,324.07 L179.51,324.04 L176.38,323.95 L173.24,323.82 L170.10,323.65 L166.96,323.47 L163.83,323.29 L160.69,323.11 L157.55,322.95 L145.00,322.95Z" fill="#e2e2e2"/>
<rect x="145.0" y="330.8" width="627.5" height="42.9" fill="#06b9f6"/>
<path d="M145.00,334.38 L157.55,334.38 L160.69,334.38 L163.83,334.38 L166.96,334.38 L170.10,334.38 L173.24,334.38 L176.38,334.38 L179.51,334.38 L182.65,334.38 L185.79,334.41 L188.93,334.52 L192.06,334.68 L195.20,334.88 L198.34,335.10 L201.47,335.34 L204.61,335.58 L207.75,335.81 L210.89,336.06 L214.03,336.38 L217.16,336.74 L220.30,337.09 L223.44,337.42 L226.58,337.70 L229.71,337.88 L232.85,337.95 L235.99,337.95 L239.12,337.95 L242.26,337.95 L245.40,337.95 L248.54,337.95 L251.68,337.95 L254.81,337.95 L257.95,337.95 L261.09,337.95 L264.23,337.95 L267.36,337.95 L270.50,337.95 L273.64,337.95 L276.77,337.95 L279.91,337.95 L283.05,337.95 L286.19,337.95 L289.32,337.95 L292.46,337.95 L295.60,337.95 L298.74,337.95 L301.88,337.95 L305.01,337.95 L308.15,337.95 L311.29,337.95 L314.42,337.95 L317.56,337.95 L320.70,337.95 L323.84,337.95 L326.98,337.95 L330.11,337.95 L333.25,337.95 L336.39,337.95 L339.52,337.95 L342.66,337.95 L345.80,337.95 L348.94,337.95 L352.08,337.95 L355.21,337.95 L358.35,337.95 L361.49,337.95 L364.62,337.95 L367.76,337.95 L370.90,337.95 L374.04,337.95 L377.18,337.95 L380.31,337.95 L383.45,337.95 L386.59,337.95 L389.73,337.95 L392.86,337.95 L396.00,337.95 L399.14,337.95 L402.28,337.95 L405.41,337.95 L408.55,337.95 L411.69,337.95 L414.83,337.95 L417.96,337.95 L421.10,337.95 L424.24,337.95 L427.38,337.95 L430.51,337.95 L433.65,337.95 L436.79,337.95 L439.93,337.95 L443.06,337.95 L446.20,337.95 L449.34,337.95 L452.48,337.95 L455.61,337.95 L458.75,337.95 L461.89,337.95 L465.02,337.95 L468.16,337.95 L471.30,337.95 L474.44,337.95 L477.58,337.95 L480.71,337.95 L483.85,337.95 L486.99,337.95 L490.12,337.95 L493.26,337.95 L496.40,337.95 L499.54,337.95 L502.68,337.95 L505.81,337.95 L508.95,337.95 L512.09,337.95 L515.23,337.95 L518.36,337.95 L521.50,337.95 L524.64,337.95 L527.77,337.95 L530.91,337.95 L534.05,337.95 L537.19,337.95 L540.33,337.95 L543.46,337.95 L546.60,337.95 L549.74,337.95 L552.88,337.95 L556.01,337.95 L559.15,337.95 L562.29,337.95 L565.43,337.95 L568.56,337.95 L571.70,337.95 L574.84,337.95 L577.98,337.95 L581.11,337.95 L584.25,337.95 L587.39,337.95 L590.52,337.95 L593.66,337.95 L596.80,337.95 L599.94,337.95 L603.08,337.95 L606.21,337.95 L609.35,337.95 L612.49,337.95 L615.62,337.95 L618.76,337.95 L621.90,337.95 L625.04,337.95 L628.18,337.95 L631.31,337.95 L634.45,337.95 L637.59,337.95 L640.73,337.95 L643.86,337.95 L647.00,337.95 L650.14,337.95 L653.28,337.95 L656.41,337.95 L659.55,337.95 L662.69,337.95 L665.83,337.95 L668.96,337.95 L672.10,337.95 L675.24,337.95 L678.38,337.95 L681.51,337.95 L684.65,337.95 L687.79,337.95 L690.92,337.95 L694.06,337.95 L697.20,337.95 L700.34,337.95 L703.48,337.95 L706.61,337.95 L709.75,337.95 L712.89,337.92 L716.02,337.84 L719.16,337.72 L722.30,337.59 L725.44,337.46 L728.58,337.35 L731.71,337.27 L734.85,337.24 L737.99,337.24 L741.12,337.24 L744.26,337.24 L747.40,337.24 L750.54,337.24 L753.68,337.24 L756.81,337.24 L759.95,337.24 L772.50,337.24 L772.50,338.66 L759.95,338.66 L756.81,338.66 L753.68,338.66 L750.54,338.66 L747.40,338.66 L744.26,338.66 L741.12,338.66 L737.99,338.66 L734.85,338.66 L731.71,338.63 L728.58,338.55 L725.44,338.44 L722.30,338.31 L719.16,338.18 L716.02,338.06 L712.89,337.98 L709.75,337.95 L706.61,337.95 L703.48,337.95 L700.34,337.95 L697.20,337.95 L694.06,337.95 L690.92,337.95 L687.79,337.95 L684.65,337.95 L681.51,337.95 L678.38,337.95 L675.24,337.95 L672.10,337.95 L668.96,337.95 L665.83,337.95 L662.69,337.95 L659.55,337.95 L656.41,337.95 L653.28,337.95 L650.14,337.95 L647.00,337.95 L643.86,337.95 L640.73,337.95 L637.59,337.95 L634.45,337.95 L631.31,337.95 L628.18,337.95 L625.04,337.95 L621.90,337.95 L618.76,337.95 L615.62,337.95 L612.49,337.95 L609.35,337.95 L606.21,337.95 L603.08,337.95 L599.94,337.95 L596.80,337.95 L593.66,337.95 L590.52,337.95 L587.39,337.95 L584.25,337.95 L581.11,337.95 L577.98,337.95 L574.84,337.95 L571.70,337.95 L568.56,337.95 L565.43,337.95 L562.29,337.95 L559.15,337.95 L556.01,337.95 L552.88,337.95 L549.74,337.95 L546.60,337.95 L543.46,337.95 L540.33,337.95 L537.19,337.95 L534.05,337.95 L530.91,337.95 L527.77,337.95 L524.64,337.95 L521.50,337.95 L518.36,337.95 L515.23,337.95 L512.09,337.95 L508.95,337.95 L505.81,337.95 L502.68,337.95 L499.54,337.95 L496.40,337.95 L493.26,337.95 L490.12,337.95 L486.99,337.95 L483.85,337.95 L480.71,337.95 L477.58,337.95 L474.44,337.95 L471.30,337.95 L468.16,337.95 L465.02,337.95 L461.89,337.95 L458.75,337.95 L455.61,337.95 L452.48,337.95 L449.34,337.95 L446.20,337.95 L443.06,337.95 L439.93,337.95 L436.79,337.95 L433.65,337.95 L430.51,337.95 L427.38,337.95 L424.24,337.95 L421.10,337.95 L417.96,337.95 L414.83,337.95 L411.69,337.95 L408.55,337.95 L405.41,337.95 L402.28,337.95 L399.14,337.95 L396.00,337.95 L392.86,337.95 L389.73,337.95 L386.59,337.95 L383.45,337.95 L380.31,337.95 L377.18,337.95 L374.04,337.95 L370.90,337.95 L367.76,337.95 L364.62,337.95 L361.49,337.95 L358.35,337.95 L355.21,337.95 L352.08,337.95 L348.94,337.95 L345.80,337.95 L342.66,337.95 L339.52,337.95 L336.39,337.95 L333.25,337.95 L330.11,337.95 L326.98,337.95 L323.84,337.95 L320.70,337.95 L317.56,337.95 L314.42,337.95 L311.29,337.95 L308.15,337.95 L305.01,337.95 L301.88,337.95 L298.74,337.95 L295.60,337.95 L292.46,337.95 L289.32,337.95 L286.19,337.95 L283.05,337.95 L279.91,337.95 L276.77,337.95 L273.64,337.95 L270.50,337.95 L267.36,337.95 L264.23,337.95 L261.09,337.95 L257.95,337.95 L254.81,337.95 L251.68,337.95 L248.54,337.95 L245.40,337.95 L242.26,337.95 L239.12,337.95 L235.99,337.95 L232.85,337.95 L229.71,338.02 L226.58,338.20 L223.44,338.48 L220.30,338.81 L217.16,339.16 L214.03,339.52 L210.89,339.84 L207.75,340.09 L204.61,340.32 L201.47,340.56 L198.34,340.80 L195.20,341.02 L192.06,341.22 L188.93,341.38 L185.79,341.49 L182.65,341.52 L179.51,341.52 L176.38,341.52 L173.24,341.52 L170.10,341.52 L166.96,341.52 L163.83,341.52 L160.69,341.52 L157.55,341.52 L145.00,341.52Z" fill="#ace0f6"/>
<path d="M145.00,350.82 L157.55,350.82 L160.69,350.62 L163.83,350.40 L166.96,350.16 L170.10,349.93 L173.24,349.72 L176.38,349.55 L179.51,349.43 L182.65,349.39 L185.79,349.39 L188.93,349.39 L192.06,349.39 L195.20,349.39 L198.34,349.39 L201.47,349.39 L204.61,349.39 L207.75,349.39 L210.89,349.39 L214.03,349.39 L217.16,349.39 L220.30,349.39 L223.44,349.39 L226.58,349.39 L229.71,349.39 L232.85,349.39 L235.99,349.51 L239.12,349.84 L242.26,350.29 L245.40,350.82 L248.54,351.35 L251.68,351.80 L254.81,352.13 L257.95,352.25 L261.09,352.25 L264.23,352.25 L267.36,352.25 L270.50,352.25 L273.64,352.25 L276.77,352.25 L279.91,352.25 L283.05,352.25 L286.19,352.25 L289.32,352.25 L292.46,352.25 L295.60,352.25 L298.74,352.25 L301.88,352.25 L305.01,352.25 L308.15,352.25 L311.29,352.25 L314.42,352.25 L317.56,352.25 L320.70,352.25 L323.84,352.25 L326.98,352.25 L330.11,352.25 L333.25,352.25 L336.39,352.25 L339.52,352.25 L342.66,352.25 L345.80,352.25 L348.94,352.25 L352.08,352.25 L355.21,352.25 L358.35,352.25 L361.49,352.25 L364.62,352.25 L367.76,352.25 L370.90,352.25 L374.04,352.25 L377.18,352.25 L380.31,352.25 L383.45,352.25 L386.59,352.25 L389.73,352.25 L392.86,352.25 L396.00,352.25 L399.14,352.25 L402.28,352.25 L405.41,352.25 L408.55,352.25 L411.69,352.25 L414.83,352.25 L417.96,352.25 L421.10,352.25 L424.24,352.25 L427.38,352.25 L430.51,352.25 L433.65,352.25 L436.79,352.25 L439.93,352.25 L443.06,352.25 L446.20,352.25 L449.34,352.25 L452.48,352.25 L455.61,352.25 L458.75,352.25 L461.89,352.25 L465.02,352.25 L468.16,352.25 L471.30,352.25 L474.44,352.25 L477.58,352.25 L480.71,352.25 L483.85,352.25 L486.99,352.25 L490.12,352.25 L493.26,352.25 L496.40,352.25 L499.54,352.25 L502.68,352.25 L505.81,352.25 L508.95,352.25 L512.09,352.25 L515.23,352.25 L518.36,352.25 L521.50,352.25 L524.64,352.25 L527.77,352.25 L530.91,352.25 L534.05,352.25 L537.19,352.25 L540.33,352.25 L543.46,352.25 L546.60,352.25 L549.74,352.25 L552.88,352.25 L556.01,352.25 L559.15,352.25 L562.29,352.25 L565.43,352.25 L568.56,352.25 L571.70,352.25 L574.84,352.25 L577.98,352.25 L581.11,352.25 L584.25,352.25 L587.39,352.25 L590.52,352.25 L593.66,352.25 L596.80,352.25 L599.94,352.25 L603.08,352.25 L606.21,352.25 L609.35,352.25 L612.49,352.25 L615.62,352.25 L618.76,352.25 L621.90,352.25 L625.04,352.25 L628.18,352.25 L631.31,352.25 L634.45,352.25 L637.59,352.25 L640.73,352.25 L643.86,352.25 L647.00,352.25 L650.14,352.25 L653.28,352.25 L656.41,352.25 L659.55,352.25 L662.69,352.25 L665.83,352.25 L668.96,352.25 L672.10,352.25 L675.24,352.25 L678.38,352.25 L681.51,352.25 L684.65,352.25 L687.79,352.25 L690.92,352.25 L694.06,352.25 L697.20,352.25 L700.34,352.25 L703.48,352.25 L706.61,352.25 L709.75,352.25 L712.89,352.25 L716.02,352.25 L719.16,352.25 L722.30,352.25 L725.44,352.25 L728.58,352.25 L731.71,352.25 L734.85,352.25 L737.99,352.25 L741.12,352.25 L744.26,352.25 L747.40,352.25 L750.54,352.25 L753.68,352.25 L756.81,352.25 L759.95,352.25 L772.50,352.25 L772.50,352.25 L759.95,352.25 L756.81,352.25 L753.68,352.25 L750.54,352.25 L747.40,352.25 L744.26,352.25 L741.12,352.25 L737.99,352.25 L734.85,352.25 L731.71,352.25 L728.58,352.25 L725.44,352.25 L722.30,352.25 L719.16,352.25 L716.02,352.25 L712.89,352.25 L709.75,352.25 L706.61,352.25 L703.48,352.25 L700.34,352.25 L697.20,352.25 L694.06,352.25 L690.92,352.25 L687.79,352.25 L684.65,352.25 L681.51,352.25 L678.38,352.25 L675.24,352.25 L672.10,352.25 L668.96,352.25 L665.83,352.25 L662.69,352.25 L659.55,352.25 L656.41,352.25 L653.28,352.25 L650.14,352.25 L647.00,352.25 L643.86,352.25 L640.73,352.25 L637.59,352.25 L634.45,352.25 L631.31,352.25 L628.18,352.25 L625.04,352.25 L621.90,352.25 L618.76,352.25 L615.62,352.25 L612.49,352.25 L609.35,352.25 L606.21,352.25 L603.08,352.25 L599.94,352.25 L596.80,352.25 L593.66,352.25 L590.52,352.25 L587.39,352.25 L584.25,352.25 L581.11,352.25 L577.98,352.25 L574.84,352.25 L571.70,352.25 L568.56,352.25 L565.43,352.25 L562.29,352.25 L559.15,352.25 L556.01,352.25 L552.88,352.25 L549.74,352.25 L546.60,352.25 L543.46,352.25 L540.33,352.25 L537.19,352.25 L534.05,352.25 L530.91,352.25 L527.77,352.25 L524.64,352.25 L521.50,352.25 L518.36,352.25 L515.23,352.25 L512.09,352.25 L508.95,352.25 L505.81,352.25 L502.68,352.25 L499.54,352.25 L496.40,352.25 L493.26,352.25 L490.12,352.25 L486.99,352.25 L483.85,352.25 L480.71,352.25 L477.58,352.25 L474.44,352.25 L471.30,352.25 L468.16,352.25 L465.02,352.25 L461.89,352.25 L458.75,352.25 L455.61,352.25 L452.48,352.25 L449.34,352.25 L446.20,352.25 L443.06,352.25 L439.93,352.25 L436.79,352.25 L433.65,352.25 L430.51,352.25 L427.38,352.25 L424.24,352.25 L421.10,352.25 L417.96,352.25 L414.83,352.25 L411.69,352.25 L408.55,352.25 L405.41,352.25 L402.28,352.25 L399.14,352.25 L396.00,352.25 L392.86,352.25 L389.73,352.25 L386.59,352.25 L383.45,352.25 L380.31,352.25 L377.18,352.25 L374.04,352.25 L370.90,352.25 L367.76,352.25 L364.62,352.25 L361.49,352.25 L358.35,352.25 L355.21,352.25 L352.08,352.25 L348.94,352.25 L345.80,352.25 L342.66,352.25 L339.52,352.25 L336.39,352.25 L333.25,352.25 L330.11,352.25 L326.98,352.25 L323.84,352.25 L320.70,352.25 L317.56,352.25 L314.42,352.25 L311.29,352.25 L308.15,352.25 L305.01,352.25 L301.88,352.25 L298.74,352.25 L295.60,352.25 L292.46,352.25 L289.32,352.25 L286.19,352.25 L283.05,352.25 L279.91,352.25 L276.77,352.25 L273.64,352.25 L270.50,352.25 L267.36,352.25 L264.23,352.25 L261.09,352.25 L257.95,352.25 L254.81,352.37 L251.68,352.70 L248.54,353.15 L245.40,353.68 L242.26,354.21 L239.12,354.66 L235.99,354.99 L232.85,355.11 L229.71,355.11 L226.58,355.11 L223.44,355.11 L220.30,355.11 L217.16,355.11 L214.03,355.11 L210.89,355.11 L207.75,355.11 L204.61,355.11 L201.47,355.11 L198.34,355.11 L195.20,355.11 L192.06,355.11 L188.93,355.11 L185.79,355.11 L182.65,355.11 L179.51,355.07 L176.38,354.95 L173.24,354.78 L170.10,354.57 L166.96,354.34 L163.83,354.10 L160.69,353.88 L157.55,353.68 L145.00,353.68Z" fill="#d4eef9"/>
<path d="M145.00,364.41 L157.55,364.41 L160.69,364.41 L163.83,364.41 L166.96,364.41 L170.10,364.41 L173.24,364.41 L176.38,364.41 L179.51,364.41 L182.65,364.41 L185.79,364.50 L188.93,364.74 L192.06,365.08 L195.20,365.48 L198.34,365.87 L201.47,366.21 L204.61,366.46 L207.75,366.55 L210.89,366.51 L214.03,366.41 L217.16,366.25 L220.30,366.05 L223.44,365.82 L226.58,365.58 L229.71,365.35 L232.85,365.12 L235.99,364.86 L239.12,364.54 L242.26,364.19 L245.40,363.83 L248.54,363.50 L251.68,363.23 L254.81,363.04 L257.95,362.98 L261.09,362.98 L264.23,362.98 L267.36,362.98 L270.50,362.98 L273.64,362.98 L276.77,362.98 L279.91,362.98 L283.05,362.98 L286.19,363.04 L289.32,363.20 L292.46,363.43 L295.60,363.69 L298.74,363.95 L301.88,364.18 L305.01,364.34 L308.15,364.41 L311.29,364.25 L314.42,363.85 L317.56,363.27 L320.70,362.62 L323.84,361.96 L326.98,361.39 L330.11,360.98 L333.25,360.83 L336.39,360.83 L339.52,360.83 L342.66,360.83 L345.80,360.83 L348.94,360.83 L352.08,360.83 L355.21,360.83 L358.35,360.83 L361.49,360.81 L364.62,360.75 L367.76,360.67 L370.90,360.56 L374.04,360.45 L377.18,360.33 L380.31,360.21 L383.45,360.12 L386.59,360.02 L389.73,359.90 L392.86,359.78 L396.00,359.67 L399.14,359.56 L402.28,359.48 L405.41,359.42 L408.55,359.40 L411.69,359.42 L414.83,359.47 L417.96,359.54 L421.10,359.64 L424.24,359.75 L427.38,359.87 L430.51,359.99 L433.65,360.12 L436.79,360.24 L439.93,360.37 L443.06,360.51 L446.20,360.67 L449.34,360.85 L452.48,361.05 L455.61,361.28 L458.75,361.55 L461.89,361.97 L465.02,362.64 L468.16,363.45 L471.30,364.33 L474.44,365.16 L477.58,365.87 L480.71,366.37 L483.85,366.55 L486.99,366.55 L490.12,366.55 L493.26,366.55 L496.40,366.55 L499.54,366.55 L502.68,366.55 L505.81,366.55 L508.95,366.55 L512.09,366.55 L515.23,366.55 L518.36,366.55 L521.50,366.55 L524.64,366.55 L527.77,366.55 L530.91,366.55 L534.05,366.55 L537.19,366.55 L540.33,366.55 L543.46,366.55 L546.60,366.55 L549.74,366.55 L552.88,366.55 L556.01,366.55 L559.15,366.55 L562.29,366.55 L565.43,366.55 L568.56,366.55 L571.70,366.55 L574.84,366.55 L577.98,366.55 L581.11,366.55 L584.25,366.55 L587.39,366.55 L590.52,366.55 L593.66,366.55 L596.80,366.55 L599.94,366.55 L603.08,366.55 L606.21,366.55 L609.35,366.55 L612.49,366.55 L615.62,366.55 L618.76,366.55 L621.90,366.55 L625.04,366.55 L628.18,366.55 L631.31,366.55 L634.45,366.55 L637.59,366.55 L640.73,366.55 L643.86,366.55 L647.00,366.55 L650.14,366.55 L653.28,366.55 L656.41,366.55 L659.55,366.55 L662.69,366.55 L665.83,366.55 L668.96,366.55 L672.10,366.55 L675.24,366.55 L678.38,366.55 L681.51,366.55 L684.65,366.55 L687.79,366.55 L690.92,366.55 L694.06,366.55 L697.20,366.55 L700.34,366.55 L703.48,366.55 L706.61,366.55 L709.75,366.55 L712.89,366.55 L716.02,366.55 L719.16,366.55 L722.30,366.55 L725.44,366.55 L728.58,366.55 L731.71,366.55 L734.85,366.55 L737.99,366.55 L741.12,366.55 L744.26,366.55 L747.40,366.55 L750.54,366.55 L753.68,366.55 L756.81,366.55 L759.95,366.55 L772.50,366.55 L772.50,366.55 L759.95,366.55 L756.81,366.55 L753.68,366.55 L750.54,366.55 L747.40,366.55 L744.26,366.55 L741.12,366.55 L737.99,366.55 L734.85,366.55 L731.71,366.55 L728.58,366.55 L725.44,366.55 L722.30,366.55 L719.16,366.55 L716.02,366.55 L712.89,366.55 L709.75,366.55 L706.61,366.55 L703.48,366.55 L700.34,366.55 L697.20,366.55 L694.06,366.55 L690.92,366.55 L687.79,366.55 L684.65,366.55 L681.51,366.55 L678.38,366.55 L675.24,366.55 L672.10,366.55 L668.96,366.55 L665.83,366.55 L662.69,366.55 L659.55,366.55 L656.41,366.55 L653.28,366.55 L650.14,366.55 L647.00,366.55 L643.86,366.55 L640.73,366.55 L637.59,366.55 L634.45,366.55 L631.31,366.55 L628.18,366.55 L625.04,366.55 L621.90,366.55 L618.76,366.55 L615.62,366.55 L612.49,366.55 L609.35,366.55 L606.21,366.55 L603.08,366.55 L599.94,366.55 L596.80,366.55 L593.66,366.55 L590.52,366.55 L587.39,366.55 L584.25,366.55 L581.11,366.55 L577.98,366.55 L574.84,366.55 L571.70,366.55 L568.56,366.55 L565.43,366.55 L562.29,366.55 L559.15,366.55 L556.01,366.55 L552.88,366.55 L549.74,366.55 L546.60,366.55 L543.46,366.55 L540.33,366.55 L537.19,366.55 L534.05,366.55 L530.91,366.55 L527.77,366.55 L524.64,366.55 L521.50,366.55 L518.36,366.55 L515.23,366.55 L512.09,366.55 L508.95,366.55 L505.81,366.55 L502.68,366.55 L499.54,366.55 L496.40,366.55 L493.26,366.55 L490.12,366.55 L486.99,366.55 L483.85,366.55 L480.71,366.73 L477.58,367.23 L474.44,367.94 L471.30,368.77 L468.16,369.65 L465.02,370.46 L461.89,371.13 L458.75,371.56 L455.61,371.82 L452.48,372.05 L449.34,372.25 L446.20,372.43 L443.06,372.59 L439.93,372.73 L436.79,372.86 L433.65,372.99 L430.51,373.11 L427.38,373.23 L424.24,373.35 L421.10,373.46 L417.96,373.56 L414.83,373.63 L411.69,373.68 L408.55,373.70 L405.41,373.68 L402.28,373.62 L399.14,373.54 L396.00,373.43 L392.86,373.32 L389.73,373.20 L386.59,373.08 L383.45,372.99 L380.31,372.89 L377.18,372.77 L374.04,372.65 L370.90,372.54 L367.76,372.43 L364.62,372.35 L361.49,372.29 L358.35,372.27 L355.21,372.27 L352.08,372.27 L348.94,372.27 L345.80,372.27 L342.66,372.27 L339.52,372.27 L336.39,372.27 L333.25,372.27 L330.11,372.12 L326.98,371.71 L323.84,371.14 L320.70,370.48 L317.56,369.83 L314.42,369.25 L311.29,368.85 L308.15,368.69 L305.01,368.76 L301.88,368.92 L298.74,369.15 L295.60,369.41 L292.46,369.67 L289.32,369.90 L286.19,370.06 L283.05,370.12 L279.91,370.12 L276.77,370.12 L273.64,370.12 L270.50,370.12 L267.36,370.12 L264.23,370.12 L261.09,370.12 L257.95,370.12 L254.81,370.06 L251.68,369.87 L248.54,369.60 L245.40,369.27 L242.26,368.91 L239.12,368.56 L235.99,368.24 L232.85,367.98 L229.71,367.75 L226.58,367.52 L223.44,367.28 L220.30,367.05 L217.16,366.85 L214.03,366.69 L210.89,366.59 L207.75,366.55 L204.61,366.64 L201.47,366.89 L198.34,367.23 L195.20,367.62 L192.06,368.02 L188.93,368.36 L185.79,368.60 L182.65,368.69 L179.51,368.69 L176.38,368.69 L173.24,368.69 L170.10,368.69 L166.96,368.69 L163.83,368.69 L160.69,368.69 L157.55,368.69 L145.00,368.69Z" fill="#dcdcdc"/>
<rect x="178" y="304" width="140" height="22.3" fill="#000" fill-opacity="0.055"/>
<rect x="178" y="330.8" width="140" height="42.9" fill="#000" fill-opacity="0.055"/>
<rect x="379" y="304" width="139" height="22.3" fill="#000" fill-opacity="0.055"/>
<rect x="379" y="330.8" width="139" height="42.9" fill="#000" fill-opacity="0.055"/>
<rect x="580" y="304" width="139.29999999999995" height="22.3" fill="#000" fill-opacity="0.055"/>
<rect x="580" y="330.8" width="139.29999999999995" height="42.9" fill="#000" fill-opacity="0.055"/>
<rect x="169.60" y="304" width="1" height="22.3" fill="#000" fill-opacity="0.025"/>
<rect x="169.60" y="330.8" width="1" height="42.9" fill="#000" fill-opacity="0.025"/>
<rect x="194.70" y="304" width="1" height="22.3" fill="#000" fill-opacity="0.025"/>
<rect x="194.70" y="330.8" width="1" height="42.9" fill="#000" fill-opacity="0.025"/>
<rect x="219.80" y="304" width="1" height="22.3" fill="#000" fill-opacity="0.025"/>
<rect x="219.80" y="330.8" width="1" height="42.9" fill="#000" fill-opacity="0.025"/>
<rect x="244.90" y="304" width="1" height="22.3" fill="#000" fill-opacity="0.025"/>
<rect x="244.90" y="330.8" width="1" height="42.9" fill="#000" fill-opacity="0.025"/>
<rect x="270.00" y="304" width="1" height="22.3" fill="#000" fill-opacity="0.025"/>
<rect x="270.00" y="330.8" width="1" height="42.9" fill="#000" fill-opacity="0.025"/>
<rect x="295.10" y="304" width="1" height="22.3" fill="#000" fill-opacity="0.025"/>
<rect x="295.10" y="330.8" width="1" height="42.9" fill="#000" fill-opacity="0.025"/>
<rect x="320.20" y="304" width="1" height="22.3" fill="#000" fill-opacity="0.025"/>
<rect x="320.20" y="330.8" width="1" height="42.9" fill="#000" fill-opacity="0.025"/>
<rect x="345.30" y="304" width="1" height="22.3" fill="#000" fill-opacity="0.025"/>
<rect x="345.30" y="330.8" width="1" height="42.9" fill="#000" fill-opacity="0.025"/>
<rect x="370.40" y="304" width="1" height="22.3" fill="#000" fill-opacity="0.025"/>
<rect x="370.40" y="330.8" width="1" height="42.9" fill="#000" fill-opacity="0.025"/>
<rect x="395.50" y="304" width="1" height="22.3" fill="#000" fill-opacity="0.025"/>
<rect x="395.50" y="330.8" width="1" height="42.9" fill="#000" fill-opacity="0.025"/>
<rect x="420.60" y="304" width="1" height="22.3" fill="#000" fill-opacity="0.025"/>
<rect x="420.60" y="330.8" width="1" height="42.9" fill="#000" fill-opacity="0.025"/>
<rect x="445.70" y="304" width="1" height="22.3" fill="#000" fill-opacity="0.025"/>
<rect x="445.70" y="330.8" width="1" height="42.9" fill="#000" fill-opacity="0.025"/>
<rect x="470.80" y="304" width="1" height="22.3" fill="#000" fill-opacity="0.025"/>
<rect x="470.80" y="330.8" width="1" height="42.9" fill="#000" fill-opacity="0.025"/>
<rect x="495.90" y="304" width="1" height="22.3" fill="#000" fill-opacity="0.025"/>
<rect x="495.90" y="330.8" width="1" height="42.9" fill="#000" fill-opacity="0.025"/>
<rect x="521.00" y="304" width="1" height="22.3" fill="#000" fill-opacity="0.025"/>
<rect x="521.00" y="330.8" width="1" height="42.9" fill="#000" fill-opacity="0.025"/>
<rect x="546.10" y="304" width="1" height="22.3" fill="#000" fill-opacity="0.025"/>
<rect x="546.10" y="330.8" width="1" height="42.9" fill="#000" fill-opacity="0.025"/>
<rect x="571.20" y="304" width="1" height="22.3" fill="#000" fill-opacity="0.025"/>
<rect x="571.20" y="330.8" width="1" height="42.9" fill="#000" fill-opacity="0.025"/>
<rect x="596.30" y="304" width="1" height="22.3" fill="#000" fill-opacity="0.025"/>
<rect x="596.30" y="330.8" width="1" height="42.9" fill="#000" fill-opacity="0.025"/>
<rect x="621.40" y="304" width="1" height="22.3" fill="#000" fill-opacity="0.025"/>
<rect x="621.40" y="330.8" width="1" height="42.9" fill="#000" fill-opacity="0.025"/>
<rect x="646.50" y="304" width="1" height="22.3" fill="#000" fill-opacity="0.025"/>
<rect x="646.50" y="330.8" width="1" height="42.9" fill="#000" fill-opacity="0.025"/>
<rect x="671.60" y="304" width="1" height="22.3" fill="#000" fill-opacity="0.025"/>
<rect x="671.60" y="330.8" width="1" height="42.9" fill="#000" fill-opacity="0.025"/>
<rect x="696.70" y="304" width="1" height="22.3" fill="#000" fill-opacity="0.025"/>
<rect x="696.70" y="330.8" width="1" height="42.9" fill="#000" fill-opacity="0.025"/>
<rect x="721.80" y="304" width="1" height="22.3" fill="#000" fill-opacity="0.025"/>
<rect x="721.80" y="330.8" width="1" height="42.9" fill="#000" fill-opacity="0.025"/>
<rect x="746.90" y="304" width="1" height="22.3" fill="#000" fill-opacity="0.025"/>
<rect x="746.90" y="330.8" width="1" height="42.9" fill="#000" fill-opacity="0.025"/>
<text transform="translate(157.55,319.20) scale(0.9607,1)" font-size="11.4" font-weight="bold" text-anchor="middle" fill="#111" stroke="#111" stroke-width="0.3" stroke-linejoin="round">70</text>
<text transform="translate(157.55,341.90) scale(0.9037,1)" font-size="10.4" font-weight="normal" text-anchor="middle" fill="#10283a" stroke="#10283a" stroke-width="0.25" stroke-linejoin="round">50</text>
<text transform="translate(157.55,356.10) scale(0.9037,1)" font-size="10.4" font-weight="normal" text-anchor="middle" fill="#10283a" stroke="#10283a" stroke-width="0.25" stroke-linejoin="round">20</text>
<text transform="translate(157.55,370.60) scale(0.9037,1)" font-size="10.4" font-weight="normal" text-anchor="middle" fill="#10283a" stroke="#10283a" stroke-width="0.25" stroke-linejoin="round">30</text>
<text transform="translate(182.65,319.20) scale(0.9607,1)" font-size="11.4" font-weight="bold" text-anchor="middle" fill="#111" stroke="#111" stroke-width="0.3" stroke-linejoin="round">80</text>
<text transform="translate(182.65,341.90) scale(0.9037,1)" font-size="10.4" font-weight="normal" text-anchor="middle" fill="#10283a" stroke="#10283a" stroke-width="0.25" stroke-linejoin="round">50</text>
<text transform="translate(182.65,356.10) scale(0.9037,1)" font-size="10.4" font-weight="normal" text-anchor="middle" fill="#10283a" stroke="#10283a" stroke-width="0.25" stroke-linejoin="round">40</text>
<text transform="translate(182.65,370.60) scale(0.9037,1)" font-size="10.4" font-weight="normal" text-anchor="middle" fill="#10283a" stroke="#10283a" stroke-width="0.25" stroke-linejoin="round">30</text>
<text transform="translate(207.75,319.20) scale(0.9607,1)" font-size="11.4" font-weight="bold" text-anchor="middle" fill="#111" stroke="#111" stroke-width="0.3" stroke-linejoin="round">60</text>
<text transform="translate(207.75,341.90) scale(0.9037,1)" font-size="10.4" font-weight="normal" text-anchor="middle" fill="#10283a" stroke="#10283a" stroke-width="0.25" stroke-linejoin="round">30</text>
<text transform="translate(207.75,356.10) scale(0.9037,1)" font-size="10.4" font-weight="normal" text-anchor="middle" fill="#10283a" stroke="#10283a" stroke-width="0.25" stroke-linejoin="round">40</text>
<text transform="translate(207.75,370.60) scale(0.9037,1)" font-size="10.4" font-weight="normal" text-anchor="middle" fill="#10283a" stroke="#10283a" stroke-width="0.25" stroke-linejoin="round">0</text>
<text transform="translate(232.85,319.20) scale(0.9607,1)" font-size="11.4" font-weight="bold" text-anchor="middle" fill="#111" stroke="#111" stroke-width="0.3" stroke-linejoin="round">60</text>
<text transform="translate(232.85,341.90) scale(0.9037,1)" font-size="10.4" font-weight="normal" text-anchor="middle" fill="#10283a" stroke="#10283a" stroke-width="0.25" stroke-linejoin="round">0</text>
<text transform="translate(232.85,356.10) scale(0.9037,1)" font-size="10.4" font-weight="normal" text-anchor="middle" fill="#10283a" stroke="#10283a" stroke-width="0.25" stroke-linejoin="round">40</text>
<text transform="translate(232.85,370.60) scale(0.9037,1)" font-size="10.4" font-weight="normal" text-anchor="middle" fill="#10283a" stroke="#10283a" stroke-width="0.25" stroke-linejoin="round">20</text>
<text transform="translate(257.95,319.20) scale(0.9607,1)" font-size="11.4" font-weight="bold" text-anchor="middle" fill="#111" stroke="#111" stroke-width="0.3" stroke-linejoin="round">50</text>
<text transform="translate(257.95,341.90) scale(0.9037,1)" font-size="10.4" font-weight="normal" text-anchor="middle" fill="#10283a" stroke="#10283a" stroke-width="0.25" stroke-linejoin="round">0</text>
<text transform="translate(257.95,356.10) scale(0.9037,1)" font-size="10.4" font-weight="normal" text-anchor="middle" fill="#10283a" stroke="#10283a" stroke-width="0.25" stroke-linejoin="round">0</text>
<text transform="translate(257.95,370.60) scale(0.9037,1)" font-size="10.4" font-weight="normal" text-anchor="middle" fill="#10283a" stroke="#10283a" stroke-width="0.25" stroke-linejoin="round">50</text>
<text transform="translate(283.05,319.20) scale(0.9607,1)" font-size="11.4" font-weight="bold" text-anchor="middle" fill="#111" stroke="#111" stroke-width="0.3" stroke-linejoin="round">50</text>
<text transform="translate(283.05,341.90) scale(0.9037,1)" font-size="10.4" font-weight="normal" text-anchor="middle" fill="#10283a" stroke="#10283a" stroke-width="0.25" stroke-linejoin="round">0</text>
<text transform="translate(283.05,356.10) scale(0.9037,1)" font-size="10.4" font-weight="normal" text-anchor="middle" fill="#10283a" stroke="#10283a" stroke-width="0.25" stroke-linejoin="round">0</text>
<text transform="translate(283.05,370.60) scale(0.9037,1)" font-size="10.4" font-weight="normal" text-anchor="middle" fill="#10283a" stroke="#10283a" stroke-width="0.25" stroke-linejoin="round">50</text>
<text transform="translate(308.15,319.20) scale(0.9607,1)" font-size="11.4" font-weight="bold" text-anchor="middle" fill="#111" stroke="#111" stroke-width="0.3" stroke-linejoin="round">30</text>
<text transform="translate(308.15,341.90) scale(0.9037,1)" font-size="10.4" font-weight="normal" text-anchor="middle" fill="#10283a" stroke="#10283a" stroke-width="0.25" stroke-linejoin="round">0</text>
<text transform="translate(308.15,356.10) scale(0.9037,1)" font-size="10.4" font-weight="normal" text-anchor="middle" fill="#10283a" stroke="#10283a" stroke-width="0.25" stroke-linejoin="round">0</text>
<text transform="translate(308.15,370.60) scale(0.9037,1)" font-size="10.4" font-weight="normal" text-anchor="middle" fill="#10283a" stroke="#10283a" stroke-width="0.25" stroke-linejoin="round">30</text>
<text transform="translate(333.25,319.20) scale(0.9607,1)" font-size="11.4" font-weight="bold" text-anchor="middle" fill="#111" stroke="#111" stroke-width="0.3" stroke-linejoin="round">80</text>
<text transform="translate(333.25,341.90) scale(0.9037,1)" font-size="10.4" font-weight="normal" text-anchor="middle" fill="#10283a" stroke="#10283a" stroke-width="0.25" stroke-linejoin="round">0</text>
<text transform="translate(333.25,356.10) scale(0.9037,1)" font-size="10.4" font-weight="normal" text-anchor="middle" fill="#10283a" stroke="#10283a" stroke-width="0.25" stroke-linejoin="round">0</text>
<text transform="translate(333.25,370.60) scale(0.9037,1)" font-size="10.4" font-weight="normal" text-anchor="middle" fill="#10283a" stroke="#10283a" stroke-width="0.25" stroke-linejoin="round">80</text>
<text transform="translate(358.35,319.20) scale(0.9607,1)" font-size="11.4" font-weight="bold" text-anchor="middle" fill="#111" stroke="#111" stroke-width="0.3" stroke-linejoin="round">80</text>
<text transform="translate(358.35,341.90) scale(0.9037,1)" font-size="10.4" font-weight="normal" text-anchor="middle" fill="#10283a" stroke="#10283a" stroke-width="0.25" stroke-linejoin="round">0</text>
<text transform="translate(358.35,356.10) scale(0.9037,1)" font-size="10.4" font-weight="normal" text-anchor="middle" fill="#10283a" stroke="#10283a" stroke-width="0.25" stroke-linejoin="round">0</text>
<text transform="translate(358.35,370.60) scale(0.9037,1)" font-size="10.4" font-weight="normal" text-anchor="middle" fill="#10283a" stroke="#10283a" stroke-width="0.25" stroke-linejoin="round">80</text>
<text transform="translate(383.45,319.20) scale(0.9607,1)" font-size="11.4" font-weight="bold" text-anchor="middle" fill="#111" stroke="#111" stroke-width="0.3" stroke-linejoin="round">90</text>
<text transform="translate(383.45,341.90) scale(0.9037,1)" font-size="10.4" font-weight="normal" text-anchor="middle" fill="#10283a" stroke="#10283a" stroke-width="0.25" stroke-linejoin="round">0</text>
<text transform="translate(383.45,356.10) scale(0.9037,1)" font-size="10.4" font-weight="normal" text-anchor="middle" fill="#10283a" stroke="#10283a" stroke-width="0.25" stroke-linejoin="round">0</text>
<text transform="translate(383.45,370.60) scale(0.9037,1)" font-size="10.4" font-weight="normal" text-anchor="middle" fill="#10283a" stroke="#10283a" stroke-width="0.25" stroke-linejoin="round">90</text>
<text transform="translate(408.55,319.20) scale(0.9607,1)" font-size="11.4" font-weight="bold" text-anchor="middle" fill="#111" stroke="#111" stroke-width="0.3" stroke-linejoin="round">100</text>
<text transform="translate(408.55,341.90) scale(0.9037,1)" font-size="10.4" font-weight="normal" text-anchor="middle" fill="#10283a" stroke="#10283a" stroke-width="0.25" stroke-linejoin="round">0</text>
<text transform="translate(408.55,356.10) scale(0.9037,1)" font-size="10.4" font-weight="normal" text-anchor="middle" fill="#10283a" stroke="#10283a" stroke-width="0.25" stroke-linejoin="round">0</text>
<text transform="translate(408.55,370.60) scale(0.9037,1)" font-size="10.4" font-weight="normal" text-anchor="middle" fill="#10283a" stroke="#10283a" stroke-width="0.25" stroke-linejoin="round">100</text>
<text transform="translate(433.65,319.20) scale(0.9607,1)" font-size="11.4" font-weight="bold" text-anchor="middle" fill="#111" stroke="#111" stroke-width="0.3" stroke-linejoin="round">90</text>
<text transform="translate(433.65,341.90) scale(0.9037,1)" font-size="10.4" font-weight="normal" text-anchor="middle" fill="#10283a" stroke="#10283a" stroke-width="0.25" stroke-linejoin="round">0</text>
<text transform="translate(433.65,356.10) scale(0.9037,1)" font-size="10.4" font-weight="normal" text-anchor="middle" fill="#10283a" stroke="#10283a" stroke-width="0.25" stroke-linejoin="round">0</text>
<text transform="translate(433.65,370.60) scale(0.9037,1)" font-size="10.4" font-weight="normal" text-anchor="middle" fill="#10283a" stroke="#10283a" stroke-width="0.25" stroke-linejoin="round">90</text>
<text transform="translate(458.75,319.20) scale(0.9607,1)" font-size="11.4" font-weight="bold" text-anchor="middle" fill="#111" stroke="#111" stroke-width="0.3" stroke-linejoin="round">70</text>
<text transform="translate(458.75,341.90) scale(0.9037,1)" font-size="10.4" font-weight="normal" text-anchor="middle" fill="#10283a" stroke="#10283a" stroke-width="0.25" stroke-linejoin="round">0</text>
<text transform="translate(458.75,356.10) scale(0.9037,1)" font-size="10.4" font-weight="normal" text-anchor="middle" fill="#10283a" stroke="#10283a" stroke-width="0.25" stroke-linejoin="round">0</text>
<text transform="translate(458.75,370.60) scale(0.9037,1)" font-size="10.4" font-weight="normal" text-anchor="middle" fill="#10283a" stroke="#10283a" stroke-width="0.25" stroke-linejoin="round">70</text>
<text transform="translate(483.85,319.20) scale(0.9607,1)" font-size="11.4" font-weight="bold" text-anchor="middle" fill="#111" stroke="#111" stroke-width="0.3" stroke-linejoin="round">0</text>
<text transform="translate(483.85,341.90) scale(0.9037,1)" font-size="10.4" font-weight="normal" text-anchor="middle" fill="#10283a" stroke="#10283a" stroke-width="0.25" stroke-linejoin="round">0</text>
<text transform="translate(483.85,356.10) scale(0.9037,1)" font-size="10.4" font-weight="normal" text-anchor="middle" fill="#10283a" stroke="#10283a" stroke-width="0.25" stroke-linejoin="round">0</text>
<text transform="translate(483.85,370.60) scale(0.9037,1)" font-size="10.4" font-weight="normal" text-anchor="middle" fill="#10283a" stroke="#10283a" stroke-width="0.25" stroke-linejoin="round">0</text>
<text transform="translate(508.95,319.20) scale(0.9607,1)" font-size="11.4" font-weight="bold" text-anchor="middle" fill="#111" stroke="#111" stroke-width="0.3" stroke-linejoin="round">0</text>
<text transform="translate(508.95,341.90) scale(0.9037,1)" font-size="10.4" font-weight="normal" text-anchor="middle" fill="#10283a" stroke="#10283a" stroke-width="0.25" stroke-linejoin="round">0</text>
<text transform="translate(508.95,356.10) scale(0.9037,1)" font-size="10.4" font-weight="normal" text-anchor="middle" fill="#10283a" stroke="#10283a" stroke-width="0.25" stroke-linejoin="round">0</text>
<text transform="translate(508.95,370.60) scale(0.9037,1)" font-size="10.4" font-weight="normal" text-anchor="middle" fill="#10283a" stroke="#10283a" stroke-width="0.25" stroke-linejoin="round">0</text>
<text transform="translate(534.05,319.20) scale(0.9607,1)" font-size="11.4" font-weight="bold" text-anchor="middle" fill="#111" stroke="#111" stroke-width="0.3" stroke-linejoin="round">0</text>
<text transform="translate(534.05,341.90) scale(0.9037,1)" font-size="10.4" font-weight="normal" text-anchor="middle" fill="#10283a" stroke="#10283a" stroke-width="0.25" stroke-linejoin="round">0</text>
<text transform="translate(534.05,356.10) scale(0.9037,1)" font-size="10.4" font-weight="normal" text-anchor="middle" fill="#10283a" stroke="#10283a" stroke-width="0.25" stroke-linejoin="round">0</text>
<text transform="translate(534.05,370.60) scale(0.9037,1)" font-size="10.4" font-weight="normal" text-anchor="middle" fill="#10283a" stroke="#10283a" stroke-width="0.25" stroke-linejoin="round">0</text>
<text transform="translate(559.15,319.20) scale(0.9607,1)" font-size="11.4" font-weight="bold" text-anchor="middle" fill="#111" stroke="#111" stroke-width="0.3" stroke-linejoin="round">0</text>
<text transform="translate(559.15,341.90) scale(0.9037,1)" font-size="10.4" font-weight="normal" text-anchor="middle" fill="#10283a" stroke="#10283a" stroke-width="0.25" stroke-linejoin="round">0</text>
<text transform="translate(559.15,356.10) scale(0.9037,1)" font-size="10.4" font-weight="normal" text-anchor="middle" fill="#10283a" stroke="#10283a" stroke-width="0.25" stroke-linejoin="round">0</text>
<text transform="translate(559.15,370.60) scale(0.9037,1)" font-size="10.4" font-weight="normal" text-anchor="middle" fill="#10283a" stroke="#10283a" stroke-width="0.25" stroke-linejoin="round">0</text>
<text transform="translate(584.25,319.20) scale(0.9607,1)" font-size="11.4" font-weight="bold" text-anchor="middle" fill="#111" stroke="#111" stroke-width="0.3" stroke-linejoin="round">0</text>
<text transform="translate(584.25,341.90) scale(0.9037,1)" font-size="10.4" font-weight="normal" text-anchor="middle" fill="#10283a" stroke="#10283a" stroke-width="0.25" stroke-linejoin="round">0</text>
<text transform="translate(584.25,356.10) scale(0.9037,1)" font-size="10.4" font-weight="normal" text-anchor="middle" fill="#10283a" stroke="#10283a" stroke-width="0.25" stroke-linejoin="round">0</text>
<text transform="translate(584.25,370.60) scale(0.9037,1)" font-size="10.4" font-weight="normal" text-anchor="middle" fill="#10283a" stroke="#10283a" stroke-width="0.25" stroke-linejoin="round">0</text>
<text transform="translate(609.35,319.20) scale(0.9607,1)" font-size="11.4" font-weight="bold" text-anchor="middle" fill="#111" stroke="#111" stroke-width="0.3" stroke-linejoin="round">0</text>
<text transform="translate(609.35,341.90) scale(0.9037,1)" font-size="10.4" font-weight="normal" text-anchor="middle" fill="#10283a" stroke="#10283a" stroke-width="0.25" stroke-linejoin="round">0</text>
<text transform="translate(609.35,356.10) scale(0.9037,1)" font-size="10.4" font-weight="normal" text-anchor="middle" fill="#10283a" stroke="#10283a" stroke-width="0.25" stroke-linejoin="round">0</text>
<text transform="translate(609.35,370.60) scale(0.9037,1)" font-size="10.4" font-weight="normal" text-anchor="middle" fill="#10283a" stroke="#10283a" stroke-width="0.25" stroke-linejoin="round">0</text>
<text transform="translate(634.45,319.20) scale(0.9607,1)" font-size="11.4" font-weight="bold" text-anchor="middle" fill="#111" stroke="#111" stroke-width="0.3" stroke-linejoin="round">0</text>
<text transform="translate(634.45,341.90) scale(0.9037,1)" font-size="10.4" font-weight="normal" text-anchor="middle" fill="#10283a" stroke="#10283a" stroke-width="0.25" stroke-linejoin="round">0</text>
<text transform="translate(634.45,356.10) scale(0.9037,1)" font-size="10.4" font-weight="normal" text-anchor="middle" fill="#10283a" stroke="#10283a" stroke-width="0.25" stroke-linejoin="round">0</text>
<text transform="translate(634.45,370.60) scale(0.9037,1)" font-size="10.4" font-weight="normal" text-anchor="middle" fill="#10283a" stroke="#10283a" stroke-width="0.25" stroke-linejoin="round">0</text>
<text transform="translate(659.55,319.20) scale(0.9607,1)" font-size="11.4" font-weight="bold" text-anchor="middle" fill="#111" stroke="#111" stroke-width="0.3" stroke-linejoin="round">0</text>
<text transform="translate(659.55,341.90) scale(0.9037,1)" font-size="10.4" font-weight="normal" text-anchor="middle" fill="#10283a" stroke="#10283a" stroke-width="0.25" stroke-linejoin="round">0</text>
<text transform="translate(659.55,356.10) scale(0.9037,1)" font-size="10.4" font-weight="normal" text-anchor="middle" fill="#10283a" stroke="#10283a" stroke-width="0.25" stroke-linejoin="round">0</text>
<text transform="translate(659.55,370.60) scale(0.9037,1)" font-size="10.4" font-weight="normal" text-anchor="middle" fill="#10283a" stroke="#10283a" stroke-width="0.25" stroke-linejoin="round">0</text>
<text transform="translate(684.65,319.20) scale(0.9607,1)" font-size="11.4" font-weight="bold" text-anchor="middle" fill="#111" stroke="#111" stroke-width="0.3" stroke-linejoin="round">0</text>
<text transform="translate(684.65,341.90) scale(0.9037,1)" font-size="10.4" font-weight="normal" text-anchor="middle" fill="#10283a" stroke="#10283a" stroke-width="0.25" stroke-linejoin="round">0</text>
<text transform="translate(684.65,356.10) scale(0.9037,1)" font-size="10.4" font-weight="normal" text-anchor="middle" fill="#10283a" stroke="#10283a" stroke-width="0.25" stroke-linejoin="round">0</text>
<text transform="translate(684.65,370.60) scale(0.9037,1)" font-size="10.4" font-weight="normal" text-anchor="middle" fill="#10283a" stroke="#10283a" stroke-width="0.25" stroke-linejoin="round">0</text>
<text transform="translate(709.75,319.20) scale(0.9607,1)" font-size="11.4" font-weight="bold" text-anchor="middle" fill="#111" stroke="#111" stroke-width="0.3" stroke-linejoin="round">0</text>
<text transform="translate(709.75,341.90) scale(0.9037,1)" font-size="10.4" font-weight="normal" text-anchor="middle" fill="#10283a" stroke="#10283a" stroke-width="0.25" stroke-linejoin="round">0</text>
<text transform="translate(709.75,356.10) scale(0.9037,1)" font-size="10.4" font-weight="normal" text-anchor="middle" fill="#10283a" stroke="#10283a" stroke-width="0.25" stroke-linejoin="round">0</text>
<text transform="translate(709.75,370.60) scale(0.9037,1)" font-size="10.4" font-weight="normal" text-anchor="middle" fill="#10283a" stroke="#10283a" stroke-width="0.25" stroke-linejoin="round">0</text>
<text transform="translate(734.85,319.20) scale(0.9607,1)" font-size="11.4" font-weight="bold" text-anchor="middle" fill="#111" stroke="#111" stroke-width="0.3" stroke-linejoin="round">10</text>
<text transform="translate(734.85,341.90) scale(0.9037,1)" font-size="10.4" font-weight="normal" text-anchor="middle" fill="#10283a" stroke="#10283a" stroke-width="0.25" stroke-linejoin="round">10</text>
<text transform="translate(734.85,356.10) scale(0.9037,1)" font-size="10.4" font-weight="normal" text-anchor="middle" fill="#10283a" stroke="#10283a" stroke-width="0.25" stroke-linejoin="round">0</text>
<text transform="translate(734.85,370.60) scale(0.9037,1)" font-size="10.4" font-weight="normal" text-anchor="middle" fill="#10283a" stroke="#10283a" stroke-width="0.25" stroke-linejoin="round">0</text>
<text transform="translate(759.95,319.20) scale(0.9607,1)" font-size="11.4" font-weight="bold" text-anchor="middle" fill="#111" stroke="#111" stroke-width="0.3" stroke-linejoin="round">10</text>
<text transform="translate(759.95,341.90) scale(0.9037,1)" font-size="10.4" font-weight="normal" text-anchor="middle" fill="#10283a" stroke="#10283a" stroke-width="0.25" stroke-linejoin="round">10</text>
<text transform="translate(759.95,356.10) scale(0.9037,1)" font-size="10.4" font-weight="normal" text-anchor="middle" fill="#10283a" stroke="#10283a" stroke-width="0.25" stroke-linejoin="round">0</text>
<text transform="translate(759.95,370.60) scale(0.9037,1)" font-size="10.4" font-weight="normal" text-anchor="middle" fill="#10283a" stroke="#10283a" stroke-width="0.25" stroke-linejoin="round">0</text>
<g transform="translate(157.55,399.8) rotate(-25)"><path d="M0,6.5 L0,-5.9 M-3.2,-3.1 L0,-6.5 L3.2,-3.1" fill="none" stroke="#111" stroke-width="1.8" stroke-linecap="butt" stroke-linejoin="miter"/></g>
<g transform="translate(182.65,399.8) rotate(-15)"><path d="M0,6.5 L0,-5.9 M-3.2,-3.1 L0,-6.5 L3.2,-3.1" fill="none" stroke="#111" stroke-width="1.8" stroke-linecap="butt" stroke-linejoin="miter"/></g>
<g transform="translate(207.75,399.8) rotate(37)"><path d="M0,6.5 L0,-5.9 M-3.2,-3.1 L0,-6.5 L3.2,-3.1" fill="none" stroke="#111" stroke-width="1.8" stroke-linecap="butt" stroke-linejoin="miter"/></g>
<g transform="translate(232.85,399.8) rotate(130)"><path d="M0,6.5 L0,-5.9 M-3.2,-3.1 L0,-6.5 L3.2,-3.1" fill="none" stroke="#111" stroke-width="1.8" stroke-linecap="butt" stroke-linejoin="miter"/></g>
<g transform="translate(257.95,399.8) rotate(133)"><path d="M0,6.5 L0,-5.9 M-3.2,-3.1 L0,-6.5 L3.2,-3.1" fill="none" stroke="#111" stroke-width="1.8" stroke-linecap="butt" stroke-linejoin="miter"/></g>
<g transform="translate(283.05,399.8) rotate(135)"><path d="M0,6.5 L0,-5.9 M-3.2,-3.1 L0,-6.5 L3.2,-3.1" fill="none" stroke="#111" stroke-width="1.8" stroke-linecap="butt" stroke-linejoin="miter"/></g>
<g transform="translate(308.15,399.8) rotate(180)"><path d="M0,6.5 L0,-5.9 M-3.2,-3.1 L0,-6.5 L3.2,-3.1" fill="none" stroke="#111" stroke-width="1.8" stroke-linecap="butt" stroke-linejoin="miter"/></g>
<g transform="translate(333.25,399.8) rotate(251)"><path d="M0,6.5 L0,-5.9 M-3.2,-3.1 L0,-6.5 L3.2,-3.1" fill="none" stroke="#111" stroke-width="1.8" stroke-linecap="butt" stroke-linejoin="miter"/></g>
<g transform="translate(358.35,399.8) rotate(259)"><path d="M0,6.5 L0,-5.9 M-3.2,-3.1 L0,-6.5 L3.2,-3.1" fill="none" stroke="#111" stroke-width="1.8" stroke-linecap="butt" stroke-linejoin="miter"/></g>
<g transform="translate(383.45,399.8) rotate(246)"><path d="M0,6.5 L0,-5.9 M-3.2,-3.1 L0,-6.5 L3.2,-3.1" fill="none" stroke="#111" stroke-width="1.8" stroke-linecap="butt" stroke-linejoin="miter"/></g>
<g transform="translate(408.55,399.8) rotate(252)"><path d="M0,6.5 L0,-5.9 M-3.2,-3.1 L0,-6.5 L3.2,-3.1" fill="none" stroke="#111" stroke-width="1.8" stroke-linecap="butt" stroke-linejoin="miter"/></g>
<g transform="translate(433.65,399.8) rotate(270)"><path d="M0,6.5 L0,-5.9 M-3.2,-3.1 L0,-6.5 L3.2,-3.1" fill="none" stroke="#111" stroke-width="1.8" stroke-linecap="butt" stroke-linejoin="miter"/></g>
<g transform="translate(458.75,399.8) rotate(270)"><path d="M0,6.5 L0,-5.9 M-3.2,-3.1 L0,-6.5 L3.2,-3.1" fill="none" stroke="#111" stroke-width="1.8" stroke-linecap="butt" stroke-linejoin="miter"/></g>
<g transform="translate(483.85,399.8) rotate(301)"><path d="M0,6.5 L0,-5.9 M-3.2,-3.1 L0,-6.5 L3.2,-3.1" fill="none" stroke="#111" stroke-width="1.8" stroke-linecap="butt" stroke-linejoin="miter"/></g>
<g transform="translate(508.95,399.8) rotate(318)"><path d="M0,6.5 L0,-5.9 M-3.2,-3.1 L0,-6.5 L3.2,-3.1" fill="none" stroke="#111" stroke-width="1.8" stroke-linecap="butt" stroke-linejoin="miter"/></g>
<g transform="translate(534.05,399.8) rotate(323)"><path d="M0,6.5 L0,-5.9 M-3.2,-3.1 L0,-6.5 L3.2,-3.1" fill="none" stroke="#111" stroke-width="1.8" stroke-linecap="butt" stroke-linejoin="miter"/></g>
<g transform="translate(559.15,399.8) rotate(325)"><path d="M0,6.5 L0,-5.9 M-3.2,-3.1 L0,-6.5 L3.2,-3.1" fill="none" stroke="#111" stroke-width="1.8" stroke-linecap="butt" stroke-linejoin="miter"/></g>
<g transform="translate(584.25,399.8) rotate(45)"><path d="M0,6.5 L0,-5.9 M-3.2,-3.1 L0,-6.5 L3.2,-3.1" fill="none" stroke="#111" stroke-width="1.8" stroke-linecap="butt" stroke-linejoin="miter"/></g>
<g transform="translate(609.35,399.8) rotate(67)"><path d="M0,6.5 L0,-5.9 M-3.2,-3.1 L0,-6.5 L3.2,-3.1" fill="none" stroke="#111" stroke-width="1.8" stroke-linecap="butt" stroke-linejoin="miter"/></g>
<g transform="translate(634.45,399.8) rotate(51)"><path d="M0,6.5 L0,-5.9 M-3.2,-3.1 L0,-6.5 L3.2,-3.1" fill="none" stroke="#111" stroke-width="1.8" stroke-linecap="butt" stroke-linejoin="miter"/></g>
<g transform="translate(659.55,399.8) rotate(68)"><path d="M0,6.5 L0,-5.9 M-3.2,-3.1 L0,-6.5 L3.2,-3.1" fill="none" stroke="#111" stroke-width="1.8" stroke-linecap="butt" stroke-linejoin="miter"/></g>
<g transform="translate(684.65,399.8) rotate(54)"><path d="M0,6.5 L0,-5.9 M-3.2,-3.1 L0,-6.5 L3.2,-3.1" fill="none" stroke="#111" stroke-width="1.8" stroke-linecap="butt" stroke-linejoin="miter"/></g>
<g transform="translate(709.75,399.8) rotate(35)"><path d="M0,6.5 L0,-5.9 M-3.2,-3.1 L0,-6.5 L3.2,-3.1" fill="none" stroke="#111" stroke-width="1.8" stroke-linecap="butt" stroke-linejoin="miter"/></g>
<g transform="translate(734.85,399.8) rotate(58)"><path d="M0,6.5 L0,-5.9 M-3.2,-3.1 L0,-6.5 L3.2,-3.1" fill="none" stroke="#111" stroke-width="1.8" stroke-linecap="butt" stroke-linejoin="miter"/></g>
<g transform="translate(759.95,399.8) rotate(90)"><path d="M0,6.5 L0,-5.9 M-3.2,-3.1 L0,-6.5 L3.2,-3.1" fill="none" stroke="#111" stroke-width="1.8" stroke-linecap="butt" stroke-linejoin="miter"/></g>
<rect x="145.0" y="410" width="627.5" height="20.5" fill="url(#g3)"/>
<rect x="145.0" y="430.5" width="627.5" height="16.3" fill="url(#g4)"/>
<text transform="translate(157.55,425.00) scale(0.9016,1)" font-size="12" font-weight="bold" text-anchor="middle" fill="#111" stroke="#111" stroke-width="0.3" stroke-linejoin="round">5</text>
<text transform="translate(157.55,442.80) scale(0.8740,1)" font-size="12" font-weight="normal" text-anchor="middle" fill="#111" stroke="#111" stroke-width="0.25" stroke-linejoin="round">11</text>
<text transform="translate(182.65,425.00) scale(0.9016,1)" font-size="12" font-weight="bold" text-anchor="middle" fill="#111" stroke="#111" stroke-width="0.3" stroke-linejoin="round">3</text>
<text transform="translate(182.65,442.80) scale(0.8740,1)" font-size="12" font-weight="normal" text-anchor="middle" fill="#111" stroke="#111" stroke-width="0.25" stroke-linejoin="round">8</text>
<text transform="translate(207.75,425.00) scale(0.9016,1)" font-size="12" font-weight="bold" text-anchor="middle" fill="#111" stroke="#111" stroke-width="0.3" stroke-linejoin="round">1</text>
<text transform="translate(207.75,442.80) scale(0.8740,1)" font-size="12" font-weight="normal" text-anchor="middle" fill="#111" stroke="#111" stroke-width="0.25" stroke-linejoin="round">2</text>
<text transform="translate(232.85,425.00) scale(0.9016,1)" font-size="12" font-weight="bold" text-anchor="middle" fill="#111" stroke="#111" stroke-width="0.3" stroke-linejoin="round">2</text>
<text transform="translate(232.85,442.80) scale(0.8740,1)" font-size="12" font-weight="normal" text-anchor="middle" fill="#111" stroke="#111" stroke-width="0.25" stroke-linejoin="round">2</text>
<text transform="translate(257.95,425.00) scale(0.9016,1)" font-size="12" font-weight="bold" text-anchor="middle" fill="#111" stroke="#111" stroke-width="0.3" stroke-linejoin="round">4</text>
<text transform="translate(257.95,442.80) scale(0.8740,1)" font-size="12" font-weight="normal" text-anchor="middle" fill="#111" stroke="#111" stroke-width="0.25" stroke-linejoin="round">6</text>
<text transform="translate(283.05,425.00) scale(0.9016,1)" font-size="12" font-weight="bold" text-anchor="middle" fill="#111" stroke="#111" stroke-width="0.3" stroke-linejoin="round">7</text>
<text transform="translate(283.05,442.80) scale(0.8740,1)" font-size="12" font-weight="normal" text-anchor="middle" fill="#111" stroke="#111" stroke-width="0.25" stroke-linejoin="round">10</text>
<text transform="translate(308.15,425.00) scale(0.9016,1)" font-size="12" font-weight="bold" text-anchor="middle" fill="#111" stroke="#111" stroke-width="0.3" stroke-linejoin="round">6</text>
<text transform="translate(308.15,442.80) scale(0.8740,1)" font-size="12" font-weight="normal" text-anchor="middle" fill="#111" stroke="#111" stroke-width="0.25" stroke-linejoin="round">8</text>
<text transform="translate(333.25,425.00) scale(0.9016,1)" font-size="12" font-weight="bold" text-anchor="middle" fill="#111" stroke="#111" stroke-width="0.3" stroke-linejoin="round">12</text>
<text transform="translate(333.25,442.80) scale(0.8740,1)" font-size="12" font-weight="normal" text-anchor="middle" fill="#111" stroke="#111" stroke-width="0.25" stroke-linejoin="round">28</text>
<text transform="translate(358.35,425.00) scale(0.9016,1)" font-size="12" font-weight="bold" text-anchor="middle" fill="#111" stroke="#111" stroke-width="0.3" stroke-linejoin="round">11</text>
<text transform="translate(358.35,442.80) scale(0.8740,1)" font-size="12" font-weight="normal" text-anchor="middle" fill="#111" stroke="#111" stroke-width="0.25" stroke-linejoin="round">31</text>
<text transform="translate(383.45,425.00) scale(0.9016,1)" font-size="12" font-weight="bold" text-anchor="middle" fill="#111" stroke="#111" stroke-width="0.3" stroke-linejoin="round">14</text>
<text transform="translate(383.45,442.80) scale(0.8740,1)" font-size="12" font-weight="normal" text-anchor="middle" fill="#111" stroke="#111" stroke-width="0.25" stroke-linejoin="round">31</text>
<text transform="translate(408.55,425.00) scale(0.9016,1)" font-size="12" font-weight="bold" text-anchor="middle" fill="#111" stroke="#111" stroke-width="0.3" stroke-linejoin="round">18</text>
<text transform="translate(408.55,442.80) scale(0.8740,1)" font-size="12" font-weight="normal" text-anchor="middle" fill="#111" stroke="#111" stroke-width="0.25" stroke-linejoin="round">36</text>
<text transform="translate(433.65,425.00) scale(0.9016,1)" font-size="12" font-weight="bold" text-anchor="middle" fill="#111" stroke="#111" stroke-width="0.3" stroke-linejoin="round">14</text>
<text transform="translate(433.65,442.80) scale(0.8740,1)" font-size="12" font-weight="normal" text-anchor="middle" fill="#111" stroke="#111" stroke-width="0.25" stroke-linejoin="round">32</text>
<text transform="translate(458.75,425.00) scale(0.9016,1)" font-size="12" font-weight="bold" text-anchor="middle" fill="#111" stroke="#111" stroke-width="0.3" stroke-linejoin="round">14</text>
<text transform="translate(458.75,442.80) scale(0.8740,1)" font-size="12" font-weight="normal" text-anchor="middle" fill="#111" stroke="#111" stroke-width="0.25" stroke-linejoin="round">33</text>
<text transform="translate(483.85,425.00) scale(0.9016,1)" font-size="12" font-weight="bold" text-anchor="middle" fill="#111" stroke="#111" stroke-width="0.3" stroke-linejoin="round">11</text>
<text transform="translate(483.85,442.80) scale(0.8740,1)" font-size="12" font-weight="normal" text-anchor="middle" fill="#111" stroke="#111" stroke-width="0.25" stroke-linejoin="round">24</text>
<text transform="translate(508.95,425.00) scale(0.9016,1)" font-size="12" font-weight="bold" text-anchor="middle" fill="#111" stroke="#111" stroke-width="0.3" stroke-linejoin="round">7</text>
<text transform="translate(508.95,442.80) scale(0.8740,1)" font-size="12" font-weight="normal" text-anchor="middle" fill="#111" stroke="#111" stroke-width="0.25" stroke-linejoin="round">15</text>
<text transform="translate(534.05,425.00) scale(0.9016,1)" font-size="12" font-weight="bold" text-anchor="middle" fill="#111" stroke="#111" stroke-width="0.3" stroke-linejoin="round">7</text>
<text transform="translate(534.05,442.80) scale(0.8740,1)" font-size="12" font-weight="normal" text-anchor="middle" fill="#111" stroke="#111" stroke-width="0.25" stroke-linejoin="round">14</text>
<text transform="translate(559.15,425.00) scale(0.9016,1)" font-size="12" font-weight="bold" text-anchor="middle" fill="#111" stroke="#111" stroke-width="0.3" stroke-linejoin="round">5</text>
<text transform="translate(559.15,442.80) scale(0.8740,1)" font-size="12" font-weight="normal" text-anchor="middle" fill="#111" stroke="#111" stroke-width="0.25" stroke-linejoin="round">13</text>
<text transform="translate(584.25,425.00) scale(0.9016,1)" font-size="12" font-weight="bold" text-anchor="middle" fill="#111" stroke="#111" stroke-width="0.3" stroke-linejoin="round">4</text>
<text transform="translate(584.25,442.80) scale(0.8740,1)" font-size="12" font-weight="normal" text-anchor="middle" fill="#111" stroke="#111" stroke-width="0.25" stroke-linejoin="round">8</text>
<text transform="translate(609.35,425.00) scale(0.9016,1)" font-size="12" font-weight="bold" text-anchor="middle" fill="#111" stroke="#111" stroke-width="0.3" stroke-linejoin="round">3</text>
<text transform="translate(609.35,442.80) scale(0.8740,1)" font-size="12" font-weight="normal" text-anchor="middle" fill="#111" stroke="#111" stroke-width="0.25" stroke-linejoin="round">5</text>
<text transform="translate(634.45,425.00) scale(0.9016,1)" font-size="12" font-weight="bold" text-anchor="middle" fill="#111" stroke="#111" stroke-width="0.3" stroke-linejoin="round">3</text>
<text transform="translate(634.45,442.80) scale(0.8740,1)" font-size="12" font-weight="normal" text-anchor="middle" fill="#111" stroke="#111" stroke-width="0.25" stroke-linejoin="round">5</text>
<text transform="translate(659.55,425.00) scale(0.9016,1)" font-size="12" font-weight="bold" text-anchor="middle" fill="#111" stroke="#111" stroke-width="0.3" stroke-linejoin="round">2</text>
<text transform="translate(659.55,442.80) scale(0.8740,1)" font-size="12" font-weight="normal" text-anchor="middle" fill="#111" stroke="#111" stroke-width="0.25" stroke-linejoin="round">4</text>
<text transform="translate(684.65,425.00) scale(0.9016,1)" font-size="12" font-weight="bold" text-anchor="middle" fill="#111" stroke="#111" stroke-width="0.3" stroke-linejoin="round">2</text>
<text transform="translate(684.65,442.80) scale(0.8740,1)" font-size="12" font-weight="normal" text-anchor="middle" fill="#111" stroke="#111" stroke-width="0.25" stroke-linejoin="round">15</text>
<text transform="translate(709.75,425.00) scale(0.9016,1)" font-size="12" font-weight="bold" text-anchor="middle" fill="#111" stroke="#111" stroke-width="0.3" stroke-linejoin="round">5</text>
<text transform="translate(709.75,442.80) scale(0.8740,1)" font-size="12" font-weight="normal" text-anchor="middle" fill="#111" stroke="#111" stroke-width="0.25" stroke-linejoin="round">7</text>
<text transform="translate(734.85,425.00) scale(0.9016,1)" font-size="12" font-weight="bold" text-anchor="middle" fill="#111" stroke="#111" stroke-width="0.3" stroke-linejoin="round">7</text>
<text transform="translate(734.85,442.80) scale(0.8740,1)" font-size="12" font-weight="normal" text-anchor="middle" fill="#111" stroke="#111" stroke-width="0.25" stroke-linejoin="round">11</text>
<text transform="translate(759.95,425.00) scale(0.9016,1)" font-size="12" font-weight="bold" text-anchor="middle" fill="#111" stroke="#111" stroke-width="0.3" stroke-linejoin="round">15</text>
<text transform="translate(759.95,442.80) scale(0.8740,1)" font-size="12" font-weight="normal" text-anchor="middle" fill="#111" stroke="#111" stroke-width="0.25" stroke-linejoin="round">30</text>
<path d="M145.00,482.00 L157.55,482.00 L182.65,482.00 L207.75,482.00 L232.85,481.09 L257.95,481.09 L283.05,481.09 L308.15,480.18 L333.25,478.36 L358.35,477.45 L383.45,476.54 L408.55,474.72 L433.65,472.90 L458.75,471.08 L483.85,470.17 L508.95,468.35 L534.05,467.44 L559.15,466.53 L584.25,466.53 L609.35,466.53 L634.45,466.53 L659.55,466.53 L684.65,466.53 L709.75,467.44 L734.85,467.44 L759.95,468.35 L772.50,468.35 L772.50,487 L145.00,487Z" fill="url(#g5)"/>
<path d="M145.00,482.00 L157.55,482.00 L182.65,482.00 L207.75,482.00 L232.85,481.09 L257.95,481.09 L283.05,481.09 L308.15,480.18 L333.25,478.36 L358.35,477.45 L383.45,476.54 L408.55,474.72 L433.65,472.90 L458.75,471.08 L483.85,470.17 L508.95,468.35 L534.05,467.44 L559.15,466.53 L584.25,466.53 L609.35,466.53 L634.45,466.53 L659.55,466.53 L684.65,466.53 L709.75,467.44 L734.85,467.44 L759.95,468.35 L772.50,468.35" fill="none" stroke="#333" stroke-width="1.1"/>
<text transform="translate(157.55,500.80) scale(0.7433,1)" font-size="12.4" font-weight="normal" text-anchor="middle" fill="#111" stroke="#111" stroke-width="0.25" stroke-linejoin="round">1024</text>
<text transform="translate(182.65,500.80) scale(0.7433,1)" font-size="12.4" font-weight="normal" text-anchor="middle" fill="#111" stroke="#111" stroke-width="0.25" stroke-linejoin="round">1024</text>
<text transform="translate(207.75,500.80) scale(0.7433,1)" font-size="12.4" font-weight="normal" text-anchor="middle" fill="#111" stroke="#111" stroke-width="0.25" stroke-linejoin="round">1024</text>
<text transform="translate(232.85,500.80) scale(0.7433,1)" font-size="12.4" font-weight="normal" text-anchor="middle" fill="#111" stroke="#111" stroke-width="0.25" stroke-linejoin="round">1025</text>
<text transform="translate(257.95,500.80) scale(0.7433,1)" font-size="12.4" font-weight="normal" text-anchor="middle" fill="#111" stroke="#111" stroke-width="0.25" stroke-linejoin="round">1025</text>
<text transform="translate(283.05,500.80) scale(0.7433,1)" font-size="12.4" font-weight="normal" text-anchor="middle" fill="#111" stroke="#111" stroke-width="0.25" stroke-linejoin="round">1025</text>
<text transform="translate(308.15,500.80) scale(0.7433,1)" font-size="12.4" font-weight="normal" text-anchor="middle" fill="#111" stroke="#111" stroke-width="0.25" stroke-linejoin="round">1026</text>
<text transform="translate(333.25,500.80) scale(0.7433,1)" font-size="12.4" font-weight="normal" text-anchor="middle" fill="#111" stroke="#111" stroke-width="0.25" stroke-linejoin="round">1028</text>
<text transform="translate(358.35,500.80) scale(0.7433,1)" font-size="12.4" font-weight="normal" text-anchor="middle" fill="#111" stroke="#111" stroke-width="0.25" stroke-linejoin="round">1029</text>
<text transform="translate(383.45,500.80) scale(0.7433,1)" font-size="12.4" font-weight="normal" text-anchor="middle" fill="#111" stroke="#111" stroke-width="0.25" stroke-linejoin="round">1030</text>
<text transform="translate(408.55,500.80) scale(0.7433,1)" font-size="12.4" font-weight="normal" text-anchor="middle" fill="#111" stroke="#111" stroke-width="0.25" stroke-linejoin="round">1032</text>
<text transform="translate(433.65,500.80) scale(0.7433,1)" font-size="12.4" font-weight="normal" text-anchor="middle" fill="#111" stroke="#111" stroke-width="0.25" stroke-linejoin="round">1034</text>
<text transform="translate(458.75,500.80) scale(0.7433,1)" font-size="12.4" font-weight="normal" text-anchor="middle" fill="#111" stroke="#111" stroke-width="0.25" stroke-linejoin="round">1036</text>
<text transform="translate(483.85,500.80) scale(0.7433,1)" font-size="12.4" font-weight="normal" text-anchor="middle" fill="#111" stroke="#111" stroke-width="0.25" stroke-linejoin="round">1037</text>
<text transform="translate(508.95,500.80) scale(0.7433,1)" font-size="12.4" font-weight="normal" text-anchor="middle" fill="#111" stroke="#111" stroke-width="0.25" stroke-linejoin="round">1039</text>
<text transform="translate(534.05,500.80) scale(0.7433,1)" font-size="12.4" font-weight="normal" text-anchor="middle" fill="#111" stroke="#111" stroke-width="0.25" stroke-linejoin="round">1040</text>
<text transform="translate(559.15,500.80) scale(0.7433,1)" font-size="12.4" font-weight="normal" text-anchor="middle" fill="#111" stroke="#111" stroke-width="0.25" stroke-linejoin="round">1041</text>
<text transform="translate(584.25,500.80) scale(0.7433,1)" font-size="12.4" font-weight="normal" text-anchor="middle" fill="#111" stroke="#111" stroke-width="0.25" stroke-linejoin="round">1041</text>
<text transform="translate(609.35,500.80) scale(0.7433,1)" font-size="12.4" font-weight="normal" text-anchor="middle" fill="#111" stroke="#111" stroke-width="0.25" stroke-linejoin="round">1041</text>
<text transform="translate(634.45,500.80) scale(0.7433,1)" font-size="12.4" font-weight="normal" text-anchor="middle" fill="#111" stroke="#111" stroke-width="0.25" stroke-linejoin="round">1041</text>
<text transform="translate(659.55,500.80) scale(0.7433,1)" font-size="12.4" font-weight="normal" text-anchor="middle" fill="#111" stroke="#111" stroke-width="0.25" stroke-linejoin="round">1041</text>
<text transform="translate(684.65,500.80) scale(0.7433,1)" font-size="12.4" font-weight="normal" text-anchor="middle" fill="#111" stroke="#111" stroke-width="0.25" stroke-linejoin="round">1041</text>
<text transform="translate(709.75,500.80) scale(0.7433,1)" font-size="12.4" font-weight="normal" text-anchor="middle" fill="#111" stroke="#111" stroke-width="0.25" stroke-linejoin="round">1040</text>
<text transform="translate(734.85,500.80) scale(0.7433,1)" font-size="12.4" font-weight="normal" text-anchor="middle" fill="#111" stroke="#111" stroke-width="0.25" stroke-linejoin="round">1040</text>
<text transform="translate(759.95,500.80) scale(0.7433,1)" font-size="12.4" font-weight="normal" text-anchor="middle" fill="#111" stroke="#111" stroke-width="0.25" stroke-linejoin="round">1039</text>
<rect x="145.0" y="516.2" width="627.5" height="17" fill="url(#g6)"/>
<text transform="translate(157.55,528.75) scale(0.8889,1)" font-size="11.3" font-weight="bold" text-anchor="middle" fill="#111" stroke="#111" stroke-width="0.3" stroke-linejoin="round">86</text>
<text transform="translate(182.65,528.75) scale(0.8889,1)" font-size="11.3" font-weight="bold" text-anchor="middle" fill="#fff" stroke="#fff" stroke-width="0.3" stroke-linejoin="round">96</text>
<text transform="translate(207.75,528.75) scale(0.8889,1)" font-size="11.3" font-weight="bold" text-anchor="middle" fill="#fff" stroke="#fff" stroke-width="0.3" stroke-linejoin="round">98</text>
<text transform="translate(232.85,528.75) scale(0.8889,1)" font-size="11.3" font-weight="bold" text-anchor="middle" fill="#fff" stroke="#fff" stroke-width="0.3" stroke-linejoin="round">98</text>
<text transform="translate(257.95,528.75) scale(0.8889,1)" font-size="11.3" font-weight="bold" text-anchor="middle" fill="#fff" stroke="#fff" stroke-width="0.3" stroke-linejoin="round">97</text>
<text transform="translate(283.05,528.75) scale(0.8889,1)" font-size="11.3" font-weight="bold" text-anchor="middle" fill="#fff" stroke="#fff" stroke-width="0.3" stroke-linejoin="round">97</text>
<text transform="translate(308.15,528.75) scale(0.8889,1)" font-size="11.3" font-weight="bold" text-anchor="middle" fill="#fff" stroke="#fff" stroke-width="0.3" stroke-linejoin="round">96</text>
<text transform="translate(333.25,528.75) scale(0.8889,1)" font-size="11.3" font-weight="bold" text-anchor="middle" fill="#111" stroke="#111" stroke-width="0.3" stroke-linejoin="round">91</text>
<text transform="translate(358.35,528.75) scale(0.8889,1)" font-size="11.3" font-weight="bold" text-anchor="middle" fill="#111" stroke="#111" stroke-width="0.3" stroke-linejoin="round">87</text>
<text transform="translate(383.45,528.75) scale(0.8889,1)" font-size="11.3" font-weight="bold" text-anchor="middle" fill="#111" stroke="#111" stroke-width="0.3" stroke-linejoin="round">85</text>
<text transform="translate(408.55,528.75) scale(0.8889,1)" font-size="11.3" font-weight="bold" text-anchor="middle" fill="#111" stroke="#111" stroke-width="0.3" stroke-linejoin="round">85</text>
<text transform="translate(433.65,528.75) scale(0.8889,1)" font-size="11.3" font-weight="bold" text-anchor="middle" fill="#111" stroke="#111" stroke-width="0.3" stroke-linejoin="round">88</text>
<text transform="translate(458.75,528.75) scale(0.8889,1)" font-size="11.3" font-weight="bold" text-anchor="middle" fill="#111" stroke="#111" stroke-width="0.3" stroke-linejoin="round">84</text>
<text transform="translate(483.85,528.75) scale(0.8889,1)" font-size="11.3" font-weight="bold" text-anchor="middle" fill="#111" stroke="#111" stroke-width="0.3" stroke-linejoin="round">87</text>
<text transform="translate(508.95,528.75) scale(0.8889,1)" font-size="11.3" font-weight="bold" text-anchor="middle" fill="#111" stroke="#111" stroke-width="0.3" stroke-linejoin="round">89</text>
<text transform="translate(534.05,528.75) scale(0.8889,1)" font-size="11.3" font-weight="bold" text-anchor="middle" fill="#111" stroke="#111" stroke-width="0.3" stroke-linejoin="round">85</text>
<text transform="translate(559.15,528.75) scale(0.8889,1)" font-size="11.3" font-weight="bold" text-anchor="middle" fill="#111" stroke="#111" stroke-width="0.3" stroke-linejoin="round">79</text>
<text transform="translate(584.25,528.75) scale(0.8889,1)" font-size="11.3" font-weight="bold" text-anchor="middle" fill="#111" stroke="#111" stroke-width="0.3" stroke-linejoin="round">87</text>
<text transform="translate(609.35,528.75) scale(0.8889,1)" font-size="11.3" font-weight="bold" text-anchor="middle" fill="#111" stroke="#111" stroke-width="0.3" stroke-linejoin="round">85</text>
<text transform="translate(634.45,528.75) scale(0.8889,1)" font-size="11.3" font-weight="bold" text-anchor="middle" fill="#111" stroke="#111" stroke-width="0.3" stroke-linejoin="round">86</text>
<text transform="translate(659.55,528.75) scale(0.8889,1)" font-size="11.3" font-weight="bold" text-anchor="middle" fill="#111" stroke="#111" stroke-width="0.3" stroke-linejoin="round">84</text>
<text transform="translate(684.65,528.75) scale(0.8889,1)" font-size="11.3" font-weight="bold" text-anchor="middle" fill="#111" stroke="#111" stroke-width="0.3" stroke-linejoin="round">83</text>
<text transform="translate(709.75,528.75) scale(0.8889,1)" font-size="11.3" font-weight="bold" text-anchor="middle" fill="#111" stroke="#111" stroke-width="0.3" stroke-linejoin="round">76</text>
<text transform="translate(734.85,528.75) scale(0.8889,1)" font-size="11.3" font-weight="bold" text-anchor="middle" fill="#111" stroke="#111" stroke-width="0.3" stroke-linejoin="round">68</text>
<text transform="translate(759.95,528.75) scale(0.8889,1)" font-size="11.3" font-weight="bold" text-anchor="middle" fill="#111" stroke="#111" stroke-width="0.3" stroke-linejoin="round">68</text>
<line x1="245.40" y1="84" x2="245.40" y2="537.5" stroke="#8e90aa" stroke-width="1" stroke-dasharray="3,2.6"/>
<line x1="446.20" y1="84" x2="446.20" y2="537.5" stroke="#8e90aa" stroke-width="1" stroke-dasharray="3,2.6"/>
<line x1="647.00" y1="84" x2="647.00" y2="537.5" stroke="#8e90aa" stroke-width="1" stroke-dasharray="3,2.6"/>
<g transform="translate(160.70,145.30) scale(0.71)" fill="#f7b500"><circle cx="0" cy="0" r="6.0"/><path d="M1.75,-6.90 L0.00,-10.20 L-1.75,-6.90Z"/><path d="M4.97,-5.10 L5.10,-8.83 L1.93,-6.85Z"/><path d="M6.85,-1.93 L8.83,-5.10 L5.10,-4.97Z"/><path d="M6.90,1.75 L10.20,0.00 L6.90,-1.75Z"/><path d="M5.10,4.97 L8.83,5.10 L6.85,1.93Z"/><path d="M1.93,6.85 L5.10,8.83 L4.97,5.10Z"/><path d="M-1.75,6.90 L0.00,10.20 L1.75,6.90Z"/><path d="M-4.97,5.10 L-5.10,8.83 L-1.93,6.85Z"/><path d="M-6.85,1.93 L-8.83,5.10 L-5.10,4.97Z"/><path d="M-6.90,-1.75 L-10.20,0.00 L-6.90,1.75Z"/><path d="M-5.10,-4.97 L-8.83,-5.10 L-6.85,-1.93Z"/><path d="M-1.93,-6.85 L-5.10,-8.83 L-4.97,-5.10Z"/></g>
<g transform="translate(157.55,150.00) scale(1.0)"><path d="M-5.950,5.9 A3.9,3.9 0 0 1 -6.983,-1.761 A6.2,6.2 0 0 1 4.514,-1.685 A3.8,3.8 0 0 1 4.850,5.9 Z" fill="#fff" stroke="#fff" stroke-width="3.20" stroke-opacity="0.85"/><path d="M-5.950,5.9 A3.9,3.9 0 0 1 -6.983,-1.761 A6.2,6.2 0 0 1 4.514,-1.685 A3.8,3.8 0 0 1 4.850,5.9 Z" fill="#fff" stroke="#5c6770" stroke-width="2.00" stroke-linejoin="round"/><path d="M-6.983,-1.761 A3.9,3.9 0 0 1 -2.183,3.009 M4.514,-1.685 A3.8,3.8 0 0 0 2.163,-0.587" fill="none" stroke="#5c6770" stroke-width="2.00" stroke-linecap="round"/></g>
<g transform="translate(188.40,143.90) scale(0.68)"><path d="M2.96,-6.78 A7.4,7.4 0 1 0 6.68,3.18 A5.46,5.46 0 1 1 2.96,-6.78Z" fill="none" stroke="#fff" stroke-width="4.19" stroke-linejoin="round"/><path d="M2.96,-6.78 A7.4,7.4 0 1 0 6.68,3.18 A5.46,5.46 0 1 1 2.96,-6.78Z" fill="#f7f2d2" stroke="#0b2a7e" stroke-width="1.84" stroke-linejoin="round"/></g>
<g transform="translate(182.65,150.00) scale(1.0)"><path d="M-5.950,5.9 A3.9,3.9 0 0 1 -6.983,-1.761 A6.2,6.2 0 0 1 4.514,-1.685 A3.8,3.8 0 0 1 4.850,5.9 Z" fill="#fff" stroke="#fff" stroke-width="3.20" stroke-opacity="0.85"/><path d="M-5.950,5.9 A3.9,3.9 0 0 1 -6.983,-1.761 A6.2,6.2 0 0 1 4.514,-1.685 A3.8,3.8 0 0 1 4.850,5.9 Z" fill="#fff" stroke="#5c6770" stroke-width="2.00" stroke-linejoin="round"/><path d="M-6.983,-1.761 A3.9,3.9 0 0 1 -2.183,3.009 M4.514,-1.685 A3.8,3.8 0 0 0 2.163,-0.587" fill="none" stroke="#5c6770" stroke-width="2.00" stroke-linecap="round"/></g>
<g transform="translate(213.50,143.90) scale(0.68)"><path d="M2.96,-6.78 A7.4,7.4 0 1 0 6.68,3.18 A5.46,5.46 0 1 1 2.96,-6.78Z" fill="none" stroke="#fff" stroke-width="4.19" stroke-linejoin="round"/><path d="M2.96,-6.78 A7.4,7.4 0 1 0 6.68,3.18 A5.46,5.46 0 1 1 2.96,-6.78Z" fill="#f7f2d2" stroke="#0b2a7e" stroke-width="1.84" stroke-linejoin="round"/></g>
<g transform="translate(207.75,150.00) scale(1.0)"><path d="M-5.950,5.9 A3.9,3.9 0 0 1 -6.983,-1.761 A6.2,6.2 0 0 1 4.514,-1.685 A3.8,3.8 0 0 1 4.850,5.9 Z" fill="#fff" stroke="#fff" stroke-width="3.20" stroke-opacity="0.85"/><path d="M-5.950,5.9 A3.9,3.9 0 0 1 -6.983,-1.761 A6.2,6.2 0 0 1 4.514,-1.685 A3.8,3.8 0 0 1 4.850,5.9 Z" fill="#fff" stroke="#5c6770" stroke-width="2.00" stroke-linejoin="round"/><path d="M-6.983,-1.761 A3.9,3.9 0 0 1 -2.183,3.009 M4.514,-1.685 A3.8,3.8 0 0 0 2.163,-0.587" fill="none" stroke="#5c6770" stroke-width="2.00" stroke-linecap="round"/></g>
<g transform="translate(238.60,143.90) scale(0.68)"><path d="M2.96,-6.78 A7.4,7.4 0 1 0 6.68,3.18 A5.46,5.46 0 1 1 2.96,-6.78Z" fill="none" stroke="#fff" stroke-width="4.19" stroke-linejoin="round"/><path d="M2.96,-6.78 A7.4,7.4 0 1 0 6.68,3.18 A5.46,5.46 0 1 1 2.96,-6.78Z" fill="#f7f2d2" stroke="#0b2a7e" stroke-width="1.84" stroke-linejoin="round"/></g>
<g transform="translate(232.85,150.00) scale(1.0)"><path d="M-5.950,5.9 A3.9,3.9 0 0 1 -6.983,-1.761 A6.2,6.2 0 0 1 4.514,-1.685 A3.8,3.8 0 0 1 4.850,5.9 Z" fill="#fff" stroke="#fff" stroke-width="3.20" stroke-opacity="0.85"/><path d="M-5.950,5.9 A3.9,3.9 0 0 1 -6.983,-1.761 A6.2,6.2 0 0 1 4.514,-1.685 A3.8,3.8 0 0 1 4.850,5.9 Z" fill="#fff" stroke="#5c6770" stroke-width="2.00" stroke-linejoin="round"/><path d="M-6.983,-1.761 A3.9,3.9 0 0 1 -2.183,3.009 M4.514,-1.685 A3.8,3.8 0 0 0 2.163,-0.587" fill="none" stroke="#5c6770" stroke-width="2.00" stroke-linecap="round"/></g>
<g transform="translate(263.70,143.90) scale(0.68)"><path d="M2.96,-6.78 A7.4,7.4 0 1 0 6.68,3.18 A5.46,5.46 0 1 1 2.96,-6.78Z" fill="none" stroke="#fff" stroke-width="4.19" stroke-linejoin="round"/><path d="M2.96,-6.78 A7.4,7.4 0 1 0 6.68,3.18 A5.46,5.46 0 1 1 2.96,-6.78Z" fill="#f7f2d2" stroke="#0b2a7e" stroke-width="1.84" stroke-linejoin="round"/></g>
<g transform="translate(257.95,150.00) scale(1.0)"><path d="M-5.950,5.9 A3.9,3.9 0 0 1 -6.983,-1.761 A6.2,6.2 0 0 1 4.514,-1.685 A3.8,3.8 0 0 1 4.850,5.9 Z" fill="#fff" stroke="#fff" stroke-width="3.20" stroke-opacity="0.85"/><path d="M-5.950,5.9 A3.9,3.9 0 0 1 -6.983,-1.761 A6.2,6.2 0 0 1 4.514,-1.685 A3.8,3.8 0 0 1 4.850,5.9 Z" fill="#fff" stroke="#5c6770" stroke-width="2.00" stroke-linejoin="round"/><path d="M-6.983,-1.761 A3.9,3.9 0 0 1 -2.183,3.009 M4.514,-1.685 A3.8,3.8 0 0 0 2.163,-0.587" fill="none" stroke="#5c6770" stroke-width="2.00" stroke-linecap="round"/></g>
<g transform="translate(288.80,143.90) scale(0.68)"><path d="M2.96,-6.78 A7.4,7.4 0 1 0 6.68,3.18 A5.46,5.46 0 1 1 2.96,-6.78Z" fill="none" stroke="#fff" stroke-width="4.19" stroke-linejoin="round"/><path d="M2.96,-6.78 A7.4,7.4 0 1 0 6.68,3.18 A5.46,5.46 0 1 1 2.96,-6.78Z" fill="#f7f2d2" stroke="#0b2a7e" stroke-width="1.84" stroke-linejoin="round"/></g>
<g transform="translate(283.05,150.00) scale(1.0)"><path d="M-5.950,5.9 A3.9,3.9 0 0 1 -6.983,-1.761 A6.2,6.2 0 0 1 4.514,-1.685 A3.8,3.8 0 0 1 4.850,5.9 Z" fill="#fff" stroke="#fff" stroke-width="3.20" stroke-opacity="0.85"/><path d="M-5.950,5.9 A3.9,3.9 0 0 1 -6.983,-1.761 A6.2,6.2 0 0 1 4.514,-1.685 A3.8,3.8 0 0 1 4.850,5.9 Z" fill="#fff" stroke="#5c6770" stroke-width="2.00" stroke-linejoin="round"/><path d="M-6.983,-1.761 A3.9,3.9 0 0 1 -2.183,3.009 M4.514,-1.685 A3.8,3.8 0 0 0 2.163,-0.587" fill="none" stroke="#5c6770" stroke-width="2.00" stroke-linecap="round"/></g>
<g transform="translate(313.90,143.90) scale(0.68)"><path d="M2.96,-6.78 A7.4,7.4 0 1 0 6.68,3.18 A5.46,5.46 0 1 1 2.96,-6.78Z" fill="none" stroke="#fff" stroke-width="4.19" stroke-linejoin="round"/><path d="M2.96,-6.78 A7.4,7.4 0 1 0 6.68,3.18 A5.46,5.46 0 1 1 2.96,-6.78Z" fill="#f7f2d2" stroke="#0b2a7e" stroke-width="1.84" stroke-linejoin="round"/></g>
<g transform="translate(308.15,150.00) scale(1.0)"><path d="M-5.950,5.9 A3.9,3.9 0 0 1 -6.983,-1.761 A6.2,6.2 0 0 1 4.514,-1.685 A3.8,3.8 0 0 1 4.850,5.9 Z" fill="#fff" stroke="#fff" stroke-width="3.20" stroke-opacity="0.85"/><path d="M-5.950,5.9 A3.9,3.9 0 0 1 -6.983,-1.761 A6.2,6.2 0 0 1 4.514,-1.685 A3.8,3.8 0 0 1 4.850,5.9 Z" fill="#fff" stroke="#5c6770" stroke-width="2.00" stroke-linejoin="round"/><path d="M-6.983,-1.761 A3.9,3.9 0 0 1 -2.183,3.009 M4.514,-1.685 A3.8,3.8 0 0 0 2.163,-0.587" fill="none" stroke="#5c6770" stroke-width="2.00" stroke-linecap="round"/></g>
<g transform="translate(307.00,161.40) rotate(28)"><path d="M0,-3.4 C1.6,-1.3 2.5,0 2.5,1.0 A2.5,2.5 0 0 1 -2.5,1.0 C-2.5,0 -1.6,-1.3 0,-3.4Z" fill="#1a70e6"/></g>
<g transform="translate(336.40,145.30) scale(0.71)" fill="#f7b500"><circle cx="0" cy="0" r="6.0"/><path d="M1.75,-6.90 L0.00,-10.20 L-1.75,-6.90Z"/><path d="M4.97,-5.10 L5.10,-8.83 L1.93,-6.85Z"/><path d="M6.85,-1.93 L8.83,-5.10 L5.10,-4.97Z"/><path d="M6.90,1.75 L10.20,0.00 L6.90,-1.75Z"/><path d="M5.10,4.97 L8.83,5.10 L6.85,1.93Z"/><path d="M1.93,6.85 L5.10,8.83 L4.97,5.10Z"/><path d="M-1.75,6.90 L0.00,10.20 L1.75,6.90Z"/><path d="M-4.97,5.10 L-5.10,8.83 L-1.93,6.85Z"/><path d="M-6.85,1.93 L-8.83,5.10 L-5.10,4.97Z"/><path d="M-6.90,-1.75 L-10.20,0.00 L-6.90,1.75Z"/><path d="M-5.10,-4.97 L-8.83,-5.10 L-6.85,-1.93Z"/><path d="M-1.93,-6.85 L-5.10,-8.83 L-4.97,-5.10Z"/></g>
<g transform="translate(333.25,150.00) scale(1.0)"><path d="M-5.950,5.9 A3.9,3.9 0 0 1 -6.983,-1.761 A6.2,6.2 0 0 1 4.514,-1.685 A3.8,3.8 0 0 1 4.850,5.9 Z" fill="#fff" stroke="#fff" stroke-width="3.20" stroke-opacity="0.85"/><path d="M-5.950,5.9 A3.9,3.9 0 0 1 -6.983,-1.761 A6.2,6.2 0 0 1 4.514,-1.685 A3.8,3.8 0 0 1 4.850,5.9 Z" fill="#fff" stroke="#5c6770" stroke-width="2.00" stroke-linejoin="round"/><path d="M-6.983,-1.761 A3.9,3.9 0 0 1 -2.183,3.009 M4.514,-1.685 A3.8,3.8 0 0 0 2.163,-0.587" fill="none" stroke="#5c6770" stroke-width="2.00" stroke-linecap="round"/></g>
<g transform="translate(328.00,161.40) rotate(28)"><path d="M0,-3.4 C1.6,-1.3 2.5,0 2.5,1.0 A2.5,2.5 0 0 1 -2.5,1.0 C-2.5,0 -1.6,-1.3 0,-3.4Z" fill="#1a70e6"/></g>
<g transform="translate(335.00,161.25)"><path d="M-2.90,-0.00 L2.90,0.00 M-1.45,-2.51 L1.45,2.51 M1.45,-2.51 L-1.45,2.51 " stroke="#e2208a" stroke-width="1.9" stroke-linecap="round"/></g>
<g transform="translate(361.50,145.30) scale(0.71)" fill="#f7b500"><circle cx="0" cy="0" r="6.0"/><path d="M1.75,-6.90 L0.00,-10.20 L-1.75,-6.90Z"/><path d="M4.97,-5.10 L5.10,-8.83 L1.93,-6.85Z"/><path d="M6.85,-1.93 L8.83,-5.10 L5.10,-4.97Z"/><path d="M6.90,1.75 L10.20,0.00 L6.90,-1.75Z"/><path d="M5.10,4.97 L8.83,5.10 L6.85,1.93Z"/><path d="M1.93,6.85 L5.10,8.83 L4.97,5.10Z"/><path d="M-1.75,6.90 L0.00,10.20 L1.75,6.90Z"/><path d="M-4.97,5.10 L-5.10,8.83 L-1.93,6.85Z"/><path d="M-6.85,1.93 L-8.83,5.10 L-5.10,4.97Z"/><path d="M-6.90,-1.75 L-10.20,0.00 L-6.90,1.75Z"/><path d="M-5.10,-4.97 L-8.83,-5.10 L-6.85,-1.93Z"/><path d="M-1.93,-6.85 L-5.10,-8.83 L-4.97,-5.10Z"/></g>
<g transform="translate(358.35,150.00) scale(1.0)"><path d="M-5.950,5.9 A3.9,3.9 0 0 1 -6.983,-1.761 A6.2,6.2 0 0 1 4.514,-1.685 A3.8,3.8 0 0 1 4.850,5.9 Z" fill="#fff" stroke="#fff" stroke-width="3.20" stroke-opacity="0.85"/><path d="M-5.950,5.9 A3.9,3.9 0 0 1 -6.983,-1.761 A6.2,6.2 0 0 1 4.514,-1.685 A3.8,3.8 0 0 1 4.850,5.9 Z" fill="#fff" stroke="#5c6770" stroke-width="2.00" stroke-linejoin="round"/><path d="M-6.983,-1.761 A3.9,3.9 0 0 1 -2.183,3.009 M4.514,-1.685 A3.8,3.8 0 0 0 2.163,-0.587" fill="none" stroke="#5c6770" stroke-width="2.00" stroke-linecap="round"/></g>
<g transform="translate(383.45,150.00) scale(1.0)"><path d="M-6.650,5.8 A4.3,4.3 0 0 1 -5.788,-2.713 A6.25,6.25 0 0 1 5.680,-4.195 A5.0,5.0 0 0 1 5.450,5.8 Z" fill="#dadada" stroke="#fff" stroke-width="3.20" stroke-opacity="0.85"/><path d="M-6.650,5.8 A4.3,4.3 0 0 1 -5.788,-2.713 A6.25,6.25 0 0 1 5.680,-4.195 A5.0,5.0 0 0 1 5.450,5.8 Z" fill="#dadada" stroke="#5c6770" stroke-width="2.00" stroke-linejoin="round"/><path d="M-5.788,-2.713 A4.3,4.3 0 0 1 -2.819,-0.452 M5.680,-4.195 A5.0,5.0 0 0 0 0.499,1.496" fill="none" stroke="#5c6770" stroke-width="2.00" stroke-linecap="round"/></g>
<g transform="translate(408.55,150.00) scale(1.0)"><path d="M-6.650,5.8 A4.3,4.3 0 0 1 -5.788,-2.713 A6.25,6.25 0 0 1 5.680,-4.195 A5.0,5.0 0 0 1 5.450,5.8 Z" fill="#dadada" stroke="#fff" stroke-width="3.20" stroke-opacity="0.85"/><path d="M-6.650,5.8 A4.3,4.3 0 0 1 -5.788,-2.713 A6.25,6.25 0 0 1 5.680,-4.195 A5.0,5.0 0 0 1 5.450,5.8 Z" fill="#dadada" stroke="#5c6770" stroke-width="2.00" stroke-linejoin="round"/><path d="M-5.788,-2.713 A4.3,4.3 0 0 1 -2.819,-0.452 M5.680,-4.195 A5.0,5.0 0 0 0 0.499,1.496" fill="none" stroke="#5c6770" stroke-width="2.00" stroke-linecap="round"/></g>
<g transform="translate(408.55,161.25)"><path d="M-2.90,-0.00 L2.90,0.00 M-1.45,-2.51 L1.45,2.51 M1.45,-2.51 L-1.45,2.51 " stroke="#e2208a" stroke-width="1.9" stroke-linecap="round"/></g>
<g transform="translate(433.65,150.00) scale(1.0)"><path d="M-6.650,5.8 A4.3,4.3 0 0 1 -5.788,-2.713 A6.25,6.25 0 0 1 5.680,-4.195 A5.0,5.0 0 0 1 5.450,5.8 Z" fill="#dadada" stroke="#fff" stroke-width="3.20" stroke-opacity="0.85"/><path d="M-6.650,5.8 A4.3,4.3 0 0 1 -5.788,-2.713 A6.25,6.25 0 0 1 5.680,-4.195 A5.0,5.0 0 0 1 5.450,5.8 Z" fill="#dadada" stroke="#5c6770" stroke-width="2.00" stroke-linejoin="round"/><path d="M-5.788,-2.713 A4.3,4.3 0 0 1 -2.819,-0.452 M5.680,-4.195 A5.0,5.0 0 0 0 0.499,1.496" fill="none" stroke="#5c6770" stroke-width="2.00" stroke-linecap="round"/></g>
<g transform="translate(433.65,161.25)"><path d="M-2.90,-0.00 L2.90,0.00 M-1.45,-2.51 L1.45,2.51 M1.45,-2.51 L-1.45,2.51 " stroke="#e2208a" stroke-width="1.9" stroke-linecap="round"/></g>
<g transform="translate(464.50,143.90) scale(0.68)"><path d="M2.96,-6.78 A7.4,7.4 0 1 0 6.68,3.18 A5.46,5.46 0 1 1 2.96,-6.78Z" fill="none" stroke="#fff" stroke-width="4.19" stroke-linejoin="round"/><path d="M2.96,-6.78 A7.4,7.4 0 1 0 6.68,3.18 A5.46,5.46 0 1 1 2.96,-6.78Z" fill="#f7f2d2" stroke="#0b2a7e" stroke-width="1.84" stroke-linejoin="round"/></g>
<g transform="translate(458.75,150.00) scale(1.0)"><path d="M-5.950,5.9 A3.9,3.9 0 0 1 -6.983,-1.761 A6.2,6.2 0 0 1 4.514,-1.685 A3.8,3.8 0 0 1 4.850,5.9 Z" fill="#fff" stroke="#fff" stroke-width="3.20" stroke-opacity="0.85"/><path d="M-5.950,5.9 A3.9,3.9 0 0 1 -6.983,-1.761 A6.2,6.2 0 0 1 4.514,-1.685 A3.8,3.8 0 0 1 4.850,5.9 Z" fill="#fff" stroke="#5c6770" stroke-width="2.00" stroke-linejoin="round"/><path d="M-6.983,-1.761 A3.9,3.9 0 0 1 -2.183,3.009 M4.514,-1.685 A3.8,3.8 0 0 0 2.163,-0.587" fill="none" stroke="#5c6770" stroke-width="2.00" stroke-linecap="round"/></g>
<g transform="translate(458.00,161.25)"><path d="M-2.90,-0.00 L2.90,0.00 M-1.45,-2.51 L1.45,2.51 M1.45,-2.51 L-1.45,2.51 " stroke="#e2208a" stroke-width="1.9" stroke-linecap="round"/></g>
<g transform="translate(484.30,147.30) scale(1.0)"><path d="M2.96,-6.78 A7.4,7.4 0 1 0 6.68,3.18 A5.46,5.46 0 1 1 2.96,-6.78Z" fill="none" stroke="#fff" stroke-width="3.40" stroke-linejoin="round"/><path d="M2.96,-6.78 A7.4,7.4 0 1 0 6.68,3.18 A5.46,5.46 0 1 1 2.96,-6.78Z" fill="#f7f2d2" stroke="#0b2a7e" stroke-width="1.80" stroke-linejoin="round"/></g>
<g transform="translate(509.40,147.30) scale(1.0)"><path d="M2.96,-6.78 A7.4,7.4 0 1 0 6.68,3.18 A5.46,5.46 0 1 1 2.96,-6.78Z" fill="none" stroke="#fff" stroke-width="3.40" stroke-linejoin="round"/><path d="M2.96,-6.78 A7.4,7.4 0 1 0 6.68,3.18 A5.46,5.46 0 1 1 2.96,-6.78Z" fill="#f7f2d2" stroke="#0b2a7e" stroke-width="1.80" stroke-linejoin="round"/></g>
<g transform="translate(533.85,147.30) scale(1.0)" fill="#f7b500"><circle cx="0" cy="0" r="5.8"/><path d="M1.45,-6.90 L0.00,-10.20 L-1.45,-6.90Z"/><path d="M4.71,-5.25 L5.10,-8.83 L2.19,-6.70Z"/><path d="M6.70,-2.19 L8.83,-5.10 L5.25,-4.71Z"/><path d="M6.90,1.45 L10.20,0.00 L6.90,-1.45Z"/><path d="M5.25,4.71 L8.83,5.10 L6.70,2.19Z"/><path d="M2.19,6.70 L5.10,8.83 L4.71,5.25Z"/><path d="M-1.45,6.90 L0.00,10.20 L1.45,6.90Z"/><path d="M-4.71,5.25 L-5.10,8.83 L-2.19,6.70Z"/><path d="M-6.70,2.19 L-8.83,5.10 L-5.25,4.71Z"/><path d="M-6.90,-1.45 L-10.20,0.00 L-6.90,1.45Z"/><path d="M-5.25,-4.71 L-8.83,-5.10 L-6.70,-2.19Z"/><path d="M-2.19,-6.70 L-5.10,-8.83 L-4.71,-5.25Z"/></g>
<g transform="translate(558.95,147.30) scale(1.0)" fill="#f7b500"><circle cx="0" cy="0" r="5.8"/><path d="M1.45,-6.90 L0.00,-10.20 L-1.45,-6.90Z"/><path d="M4.71,-5.25 L5.10,-8.83 L2.19,-6.70Z"/><path d="M6.70,-2.19 L8.83,-5.10 L5.25,-4.71Z"/><path d="M6.90,1.45 L10.20,0.00 L6.90,-1.45Z"/><path d="M5.25,4.71 L8.83,5.10 L6.70,2.19Z"/><path d="M2.19,6.70 L5.10,8.83 L4.71,5.25Z"/><path d="M-1.45,6.90 L0.00,10.20 L1.45,6.90Z"/><path d="M-4.71,5.25 L-5.10,8.83 L-2.19,6.70Z"/><path d="M-6.70,2.19 L-8.83,5.10 L-5.25,4.71Z"/><path d="M-6.90,-1.45 L-10.20,0.00 L-6.90,1.45Z"/><path d="M-5.25,-4.71 L-8.83,-5.10 L-6.70,-2.19Z"/><path d="M-2.19,-6.70 L-5.10,-8.83 L-4.71,-5.25Z"/></g>
<g transform="translate(584.70,147.30) scale(1.0)"><path d="M2.96,-6.78 A7.4,7.4 0 1 0 6.68,3.18 A5.46,5.46 0 1 1 2.96,-6.78Z" fill="none" stroke="#fff" stroke-width="3.40" stroke-linejoin="round"/><path d="M2.96,-6.78 A7.4,7.4 0 1 0 6.68,3.18 A5.46,5.46 0 1 1 2.96,-6.78Z" fill="#f7f2d2" stroke="#0b2a7e" stroke-width="1.80" stroke-linejoin="round"/></g>
<g transform="translate(609.80,147.30) scale(1.0)"><path d="M2.96,-6.78 A7.4,7.4 0 1 0 6.68,3.18 A5.46,5.46 0 1 1 2.96,-6.78Z" fill="none" stroke="#fff" stroke-width="3.40" stroke-linejoin="round"/><path d="M2.96,-6.78 A7.4,7.4 0 1 0 6.68,3.18 A5.46,5.46 0 1 1 2.96,-6.78Z" fill="#f7f2d2" stroke="#0b2a7e" stroke-width="1.80" stroke-linejoin="round"/></g>
<g transform="translate(634.90,147.30) scale(1.0)"><path d="M2.96,-6.78 A7.4,7.4 0 1 0 6.68,3.18 A5.46,5.46 0 1 1 2.96,-6.78Z" fill="none" stroke="#fff" stroke-width="3.40" stroke-linejoin="round"/><path d="M2.96,-6.78 A7.4,7.4 0 1 0 6.68,3.18 A5.46,5.46 0 1 1 2.96,-6.78Z" fill="#f7f2d2" stroke="#0b2a7e" stroke-width="1.80" stroke-linejoin="round"/></g>
<g transform="translate(660.00,147.30) scale(1.0)"><path d="M2.96,-6.78 A7.4,7.4 0 1 0 6.68,3.18 A5.46,5.46 0 1 1 2.96,-6.78Z" fill="none" stroke="#fff" stroke-width="3.40" stroke-linejoin="round"/><path d="M2.96,-6.78 A7.4,7.4 0 1 0 6.68,3.18 A5.46,5.46 0 1 1 2.96,-6.78Z" fill="#f7f2d2" stroke="#0b2a7e" stroke-width="1.80" stroke-linejoin="round"/></g>
<g transform="translate(685.10,147.30) scale(1.0)"><path d="M2.96,-6.78 A7.4,7.4 0 1 0 6.68,3.18 A5.46,5.46 0 1 1 2.96,-6.78Z" fill="none" stroke="#fff" stroke-width="3.40" stroke-linejoin="round"/><path d="M2.96,-6.78 A7.4,7.4 0 1 0 6.68,3.18 A5.46,5.46 0 1 1 2.96,-6.78Z" fill="#f7f2d2" stroke="#0b2a7e" stroke-width="1.80" stroke-linejoin="round"/></g>
<g transform="translate(710.20,147.30) scale(1.0)"><path d="M2.96,-6.78 A7.4,7.4 0 1 0 6.68,3.18 A5.46,5.46 0 1 1 2.96,-6.78Z" fill="none" stroke="#fff" stroke-width="3.40" stroke-linejoin="round"/><path d="M2.96,-6.78 A7.4,7.4 0 1 0 6.68,3.18 A5.46,5.46 0 1 1 2.96,-6.78Z" fill="#f7f2d2" stroke="#0b2a7e" stroke-width="1.80" stroke-linejoin="round"/></g>
<g transform="translate(734.65,147.30) scale(1.0)" fill="#f7b500"><circle cx="0" cy="0" r="5.8"/><path d="M1.45,-6.90 L0.00,-10.20 L-1.45,-6.90Z"/><path d="M4.71,-5.25 L5.10,-8.83 L2.19,-6.70Z"/><path d="M6.70,-2.19 L8.83,-5.10 L5.25,-4.71Z"/><path d="M6.90,1.45 L10.20,0.00 L6.90,-1.45Z"/><path d="M5.25,4.71 L8.83,5.10 L6.70,2.19Z"/><path d="M2.19,6.70 L5.10,8.83 L4.71,5.25Z"/><path d="M-1.45,6.90 L0.00,10.20 L1.45,6.90Z"/><path d="M-4.71,5.25 L-5.10,8.83 L-2.19,6.70Z"/><path d="M-6.70,2.19 L-8.83,5.10 L-5.25,4.71Z"/><path d="M-6.90,-1.45 L-10.20,0.00 L-6.90,1.45Z"/><path d="M-5.25,-4.71 L-8.83,-5.10 L-6.70,-2.19Z"/><path d="M-2.19,-6.70 L-5.10,-8.83 L-4.71,-5.25Z"/></g>
<g transform="translate(759.75,147.30) scale(1.0)" fill="#f7b500"><circle cx="0" cy="0" r="5.8"/><path d="M1.45,-6.90 L0.00,-10.20 L-1.45,-6.90Z"/><path d="M4.71,-5.25 L5.10,-8.83 L2.19,-6.70Z"/><path d="M6.70,-2.19 L8.83,-5.10 L5.25,-4.71Z"/><path d="M6.90,1.45 L10.20,0.00 L6.90,-1.45Z"/><path d="M5.25,4.71 L8.83,5.10 L6.70,2.19Z"/><path d="M2.19,6.70 L5.10,8.83 L4.71,5.25Z"/><path d="M-1.45,6.90 L0.00,10.20 L1.45,6.90Z"/><path d="M-4.71,5.25 L-5.10,8.83 L-2.19,6.70Z"/><path d="M-6.70,2.19 L-8.83,5.10 L-5.25,4.71Z"/><path d="M-6.90,-1.45 L-10.20,0.00 L-6.90,1.45Z"/><path d="M-5.25,-4.71 L-8.83,-5.10 L-6.70,-2.19Z"/><path d="M-2.19,-6.70 L-5.10,-8.83 L-4.71,-5.25Z"/></g>
<circle cx="590.1" cy="26.1" r="2.9" fill="#e5184e"/>
<path d="M586.0,32.9 A5.7,6.2 0 1 0 586.0,41.1" fill="none" stroke="#0f3a6e" stroke-width="1.9"/>
<rect x="589.5" y="31.1" width="2.2" height="11.8" fill="#0f3a6e"/>
<text stroke="#0f3a6e" stroke-width="1.0" stroke-linejoin="round" transform="translate(596.29,52.70) scale(1.0287,1)" font-size="28" font-weight="bold" text-anchor="start" fill="#0f3a6e" xml:space="preserve" stroke="#0f3a6e" stroke-width="0.1" stroke-linejoin="round">task</text>
<defs><clipPath id="circ"><circle cx="687.1" cy="38.1" r="17.8"/></clipPath><pattern id="diag" width="2.4" height="2.4" patternUnits="userSpaceOnUse" patternTransform="rotate(-35)"><rect width="2.4" height="2.4" fill="#3ecfbf"/><rect width="0.6" height="2.4" fill="#ffffff"/></pattern></defs>
<g clip-path="url(#circ)"><rect x="668" y="19" width="40" height="22" fill="url(#diag)"/><rect x="668" y="41" width="40" height="16" fill="#ffffff"/>
<rect x="668" y="41.0" width="40" height="2.2" fill="#101c3c"/>
<rect x="668" y="44.0" width="40" height="2.2" fill="#101c3c"/>
<rect x="668" y="47.0" width="40" height="2.2" fill="#101c3c"/>
<rect x="668" y="50.0" width="40" height="2.2" fill="#101c3c"/>
<rect x="668" y="53.0" width="40" height="4" fill="#101c3c"/>
</g>
<text stroke="#fff" stroke-width="0.9" stroke-linejoin="round" transform="translate(670.14,39.80) scale(1.3226,1)" font-size="12.6" font-weight="bold" text-anchor="start" fill="#ffffff" xml:space="preserve" stroke="#ffffff" stroke-width="0.1" stroke-linejoin="round">IM</text>
<text stroke="#fff" stroke-width="0.9" stroke-linejoin="round" transform="translate(676.78,51.20) scale(1.0450,1)" font-size="13.2" font-weight="bold" text-anchor="start" fill="#ffffff" xml:space="preserve" stroke="#ffffff" stroke-width="0.1" stroke-linejoin="round">GW</text>
<text transform="translate(719.66,32.20) scale(1.0510,1)" font-size="11.3" font-weight="bold" text-anchor="start" fill="#101c3c" xml:space="preserve" stroke="#101c3c" stroke-width="0.1" stroke-linejoin="round">MODELE</text>
<text transform="translate(719.55,43.10) scale(0.9483,1)" font-size="11.3" font-weight="normal" text-anchor="start" fill="#2a3550" xml:space="preserve" stroke="#2a3550" stroke-width="0.2" stroke-linejoin="round">IMGW-PIB</text>
<text transform="translate(720.06,51.70) scale(0.8887,1)" font-size="7.6" font-weight="bold" text-anchor="start" fill="#3ecfbf" xml:space="preserve" stroke="#3ecfbf" stroke-width="0.1" stroke-linejoin="round">modele.imgw.pl</text>
<rect x="711.8" y="24.4" width="1" height="27.3" fill="#d0d0d0"/></svg></body></html>
